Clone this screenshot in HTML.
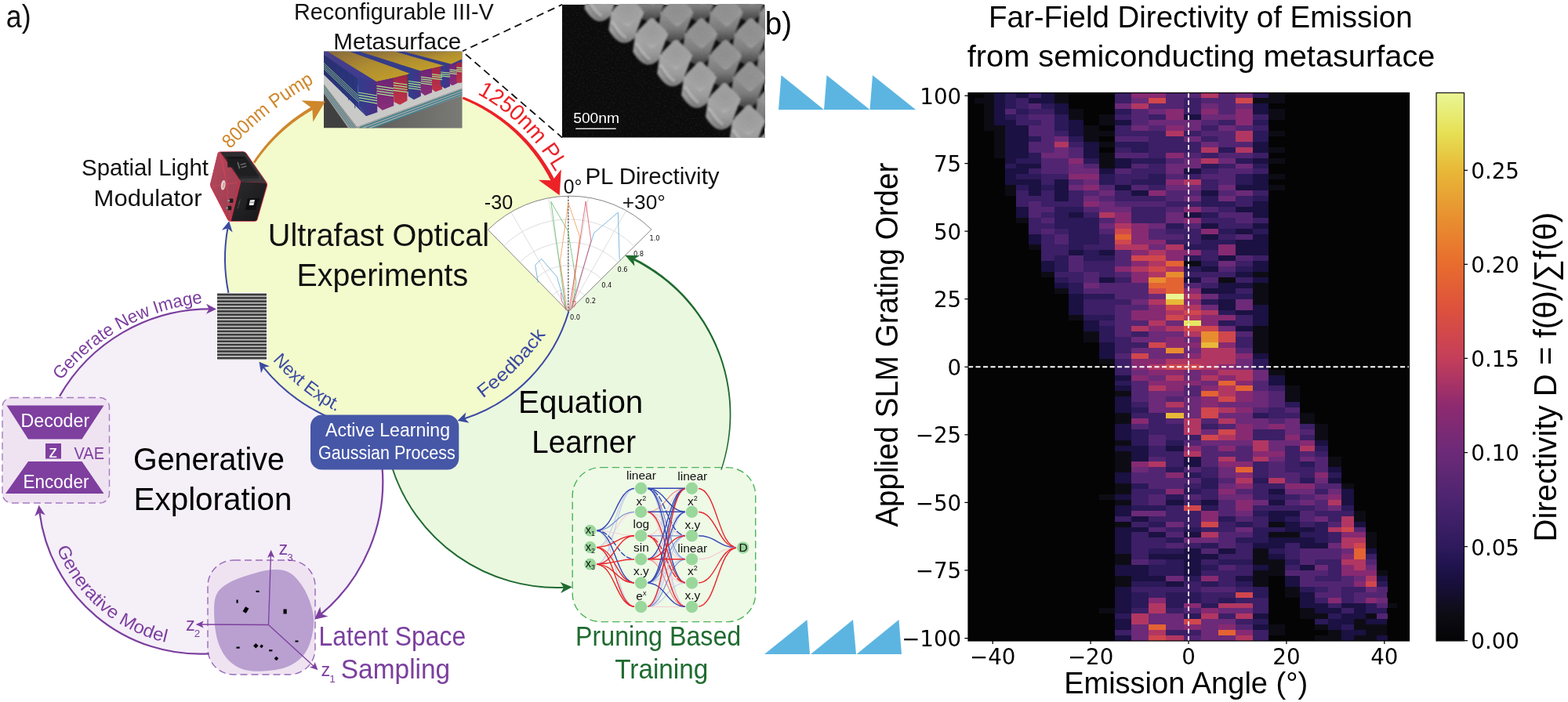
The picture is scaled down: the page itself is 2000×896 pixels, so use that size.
<!DOCTYPE html>
<html lang="en"><head><meta charset="utf-8"><title>Figure</title>
<style>
html,body{margin:0;padding:0;background:#fff;}
body{width:2000px;height:896px;overflow:hidden;font-family:"Liberation Sans",sans-serif;}
svg{display:block;}
text{font-family:"Liberation Sans",sans-serif;}
.dv{font-family:"DejaVu Sans","Liberation Sans",sans-serif;}
</style></head><body>
<svg width="2000" height="896" viewBox="0 0 2000 896">
<rect width="2000" height="896" fill="#fff"/>
<!-- blobs.svg -->
<g id="blobs">
<circle cx="267.7" cy="614.9" r="220.6" fill="#f5eff8"/>
<path d="M267.98 834.30 A206.30 206.30 0 0 1 49.23 640.02 Z" fill="#f5eff8"/>
<circle cx="710.5" cy="529.0" r="221.0" fill="#ebf8e0"/>
<circle cx="508.0" cy="330.0" r="221.0" fill="#f3fbcc"/>
</g>
<!-- art_meta.svg -->
<g id="metasurface">
<svg x="413" y="65.5" width="176.5" height="98" viewBox="97 78 1318 732" preserveAspectRatio="none">
<defs>
<linearGradient id="mYel" x1="0" y1="0" x2="1" y2="1"><stop offset="0" stop-color="#86683c"/><stop offset="0.5" stop-color="#b08e30"/><stop offset="1" stop-color="#c6a228"/></linearGradient>
<linearGradient id="mFloorR" x1="0" y1="0" x2="1" y2="0"><stop offset="0" stop-color="#5a5a58"/><stop offset="1" stop-color="#7a7a76"/></linearGradient>
<linearGradient id="mBlue" x1="0" y1="0" x2="1" y2="0"><stop offset="0" stop-color="#2f3f8c"/><stop offset="1" stop-color="#4a2f86"/></linearGradient>
<linearGradient id="mPur" x1="0" y1="0" x2="0" y2="1"><stop offset="0" stop-color="#6d2476"/><stop offset="1" stop-color="#8a2d78"/></linearGradient>
<linearGradient id="mRed" x1="0" y1="0" x2="0" y2="1"><stop offset="0" stop-color="#9c2448"/><stop offset="1" stop-color="#bf3348"/></linearGradient>
<linearGradient id="mTopStrip" x1="0" y1="0" x2="1" y2="1"><stop offset="0" stop-color="#4a3f86"/><stop offset="1" stop-color="#3c3a92"/></linearGradient>
<linearGradient id="mLeft" x1="0" y1="0" x2="1" y2="1"><stop offset="0" stop-color="#2a2f6e"/><stop offset="1" stop-color="#2c3a86"/></linearGradient>
</defs>
<rect x="97" y="78" width="1318" height="732" fill="#404040"/>
<polygon points="420,810 1415,470 1415,810" fill="url(#mFloorR)"/>
<polygon points="97,280 97,392 412,800 1415,430 1415,370 700,500" fill="#c9c9c7"/>
<polygon points="97,392 412,800 404,810 330,810 97,480" fill="#9a9a98"/>
<g stroke="#3d7f8e" stroke-width="7" fill="none"><path d="M97 410L398 810M97 436L378 810M97 462L358 810"/></g>
<polygon points="412,800 1415,430 1415,500 560,810 420,810" fill="#a9a9a6"/>
<g stroke="#3d7f8e" stroke-width="11" fill="none"><path d="M440 806L1415 446M500 808L1415 468M560 810L1415 490"/></g>
<!-- yellow tops & blue gaps -->
<polygon points="97,78 1415,78 1415,190 1300,205 1240,218 1020,265 925,292 600,368 415,333 97,130" fill="#353c88"/>
<polygon points="97,78 140,78 600,368 415,333 97,112" fill="url(#mTopStrip)"/>
<polygon points="130,78 335,78 925,292 600,368" fill="url(#mYel)"/>
<polygon points="430,78 770,78 1245,216 1020,264" fill="url(#mYel)"/>
<polygon points="850,78 1415,78 1415,150 1310,200" fill="url(#mYel)"/>
<!-- left receding pillar wall -->
<polygon points="97,110 415,333 432,600 500,697 97,300" fill="url(#mLeft)"/>
<g stroke="#27307a" stroke-width="6"><path d="M150 160L160 350M200 190L215 410M255 225L275 475M310 262L335 545M365 300L395 620"/></g>
<g stroke="#9ee08a" stroke-width="6" fill="none"><path d="M97 190L470 540M97 208L475 565M97 226L480 590M97 244L485 615"/></g>
<!-- front row -->
<polygon points="415,333 598,366 608,658 500,697 432,600" fill="url(#mBlue)"/>
<polygon points="598,366 758,333 764,598 655,640 606,600" fill="url(#mPur)"/>
<polygon points="758,333 892,300 892,548 822,588 764,560" fill="url(#mRed)"/>
<polygon points="900,292 1020,264 1022,505 955,540 902,505" fill="url(#mBlue)"/>
<polygon points="1020,264 1127,240 1128,470 1060,500 1022,470" fill="url(#mPur)"/>
<polygon points="1127,240 1225,218 1225,440 1160,465 1128,440" fill="url(#mRed)"/>
<polygon points="1210,222 1300,205 1300,410 1250,432 1210,405" fill="url(#mBlue)"/>
<polygon points="1295,205 1365,190 1365,385 1320,405 1295,385" fill="url(#mPur)"/>
<polygon points="1360,190 1415,178 1415,375 1385,380 1360,365" fill="url(#mRed)"/>
<g stroke="#a4e48e" stroke-width="9" fill="none">
<path d="M425 470L604 500M428 495L605 525M431 520L606 550M434 545L607 575"/>
<path d="M600 408L760 432M601 432L761 456M602 456L762 480M603 480L763 504"/>
<path d="M760 378L892 396M760 402L892 420M760 426L892 444M760 450L892 468"/>
<path d="M902 362L1021 378M902 384L1021 400M902 406L1021 422M902 428L1021 444"/>
<path d="M1022 322L1127 336M1022 342L1127 356M1022 362L1127 376M1022 382L1127 396"/>
<path d="M1128 296L1225 308M1128 316L1225 328M1128 336L1225 348"/>
<path d="M1212 276L1300 286M1212 294L1300 304M1212 312L1300 322"/>
<path d="M1296 252L1365 260M1296 270L1365 278M1296 288L1365 296"/>
<path d="M1362 232L1415 238M1362 250L1415 256M1362 268L1415 274"/>
</g>
</svg>
</g>

<!-- art_sem.svg -->
<g id="sem">
<svg x="717" y="5.7" width="258.5" height="170" viewBox="35 28 1280 842" preserveAspectRatio="none">
<defs>
<filter id="semBlur" x="-5%" y="-5%" width="110%" height="110%"><feGaussianBlur stdDeviation="5.5"/></filter>
<filter id="semNoise" x="0" y="0" width="100%" height="100%"><feTurbulence type="fractalNoise" baseFrequency="0.09" numOctaves="2" seed="7"/><feColorMatrix type="matrix" values="0 0 0 0 1  0 0 0 0 1  0 0 0 0 1  0.9 0 0 0 -0.38"/></filter>
<linearGradient id="semBody" x1="0" y1="0" x2="0" y2="1"><stop offset="0" stop-color="#a8a8a8"/><stop offset="0.6" stop-color="#9c9c9c"/><stop offset="1" stop-color="#7c7c7c"/></linearGradient>
<linearGradient id="semBodyIn" x1="0" y1="0" x2="0" y2="1"><stop offset="0" stop-color="#929292"/><stop offset="0.55" stop-color="#7a7a7a"/><stop offset="1" stop-color="#3c3c3c"/></linearGradient>
<radialGradient id="semTop" cx="0.45" cy="0.45" r="0.6"><stop offset="0" stop-color="#8e8e8e"/><stop offset="0.7" stop-color="#939393"/><stop offset="1" stop-color="#a4a4a4"/></radialGradient>
<radialGradient id="semTop1" cx="0.5" cy="0.4" r="0.65"><stop offset="0" stop-color="#9a9a9a"/><stop offset="0.7" stop-color="#a2a2a2"/><stop offset="1" stop-color="#b8b8b8"/></radialGradient>
</defs>
<rect x="35" y="28" width="1280" height="842" fill="#0b0b0b"/>
<g filter="url(#semBlur)">
<path d="M1291 -202 L1275 -84 Q1353 48 1437 -34 L1499 -202 Z" fill="url(#semBodyIn)"/>
<path d="M1374 -285 Q1395 -306 1416 -285 L1478 -223 Q1499 -202 1478 -181 L1416 -119 Q1395 -98 1374 -119 L1312 -181 Q1291 -202 1312 -223 Z" fill="url(#semTop)"/>
<path d="M978 -202 L962 -84 Q1040 48 1124 -34 L1186 -202 Z" fill="url(#semBodyIn)"/>
<path d="M1061 -285 Q1082 -306 1103 -285 L1165 -223 Q1186 -202 1165 -181 L1103 -119 Q1082 -98 1061 -119 L999 -181 Q978 -202 999 -223 Z" fill="url(#semTop)"/>
<path d="M1131 -65 L1115 53 Q1193 185 1277 103 L1339 -65 Z" fill="url(#semBodyIn)"/>
<path d="M1214 -148 Q1235 -169 1256 -148 L1318 -86 Q1339 -65 1318 -44 L1256 18 Q1235 39 1214 18 L1152 -44 Q1131 -65 1152 -86 Z" fill="url(#semTop)"/>
<path d="M1284 72 L1268 190 Q1346 322 1430 240 L1492 72 Z" fill="url(#semBodyIn)"/>
<path d="M1367 -11 Q1388 -32 1409 -11 L1471 51 Q1492 72 1471 93 L1409 155 Q1388 176 1367 155 L1305 93 Q1284 72 1305 51 Z" fill="url(#semTop)"/>
<path d="M665 -202 L649 -84 Q727 48 811 -34 L873 -202 Z" fill="url(#semBodyIn)"/>
<path d="M748 -285 Q769 -306 790 -285 L852 -223 Q873 -202 852 -181 L790 -119 Q769 -98 748 -119 L686 -181 Q665 -202 686 -223 Z" fill="url(#semTop)"/>
<path d="M818 -65 L802 53 Q880 185 964 103 L1026 -65 Z" fill="url(#semBodyIn)"/>
<path d="M901 -148 Q922 -169 943 -148 L1005 -86 Q1026 -65 1005 -44 L943 18 Q922 39 901 18 L839 -44 Q818 -65 839 -86 Z" fill="url(#semTop)"/>
<path d="M971 72 L955 190 Q1033 322 1117 240 L1179 72 Z" fill="url(#semBodyIn)"/>
<path d="M1054 -11 Q1075 -32 1096 -11 L1158 51 Q1179 72 1158 93 L1096 155 Q1075 176 1054 155 L992 93 Q971 72 992 51 Z" fill="url(#semTop)"/>
<path d="M1124 209 L1108 327 Q1186 459 1270 377 L1332 209 Z" fill="url(#semBodyIn)"/>
<path d="M1207 126 Q1228 105 1249 126 L1311 188 Q1332 209 1311 230 L1249 292 Q1228 313 1207 292 L1145 230 Q1124 209 1145 188 Z" fill="url(#semTop)"/>
<path d="M1277 346 L1261 464 Q1339 596 1423 514 L1485 346 Z" fill="url(#semBodyIn)"/>
<path d="M1360 263 Q1381 242 1402 263 L1464 325 Q1485 346 1464 367 L1402 429 Q1381 450 1360 429 L1298 367 Q1277 346 1298 325 Z" fill="url(#semTop)"/>
<path d="M352 -202 L336 -84 Q414 48 498 -34 L560 -202 Z" fill="url(#semBodyIn)"/>
<path d="M435 -285 Q456 -306 477 -285 L539 -223 Q560 -202 539 -181 L477 -119 Q456 -98 435 -119 L373 -181 Q352 -202 373 -223 Z" fill="url(#semTop)"/>
<path d="M505 -65 L489 53 Q567 185 651 103 L713 -65 Z" fill="url(#semBodyIn)"/>
<path d="M588 -148 Q609 -169 630 -148 L692 -86 Q713 -65 692 -44 L630 18 Q609 39 588 18 L526 -44 Q505 -65 526 -86 Z" fill="url(#semTop)"/>
<path d="M658 72 L642 190 Q720 322 804 240 L866 72 Z" fill="url(#semBodyIn)"/>
<path d="M741 -11 Q762 -32 783 -11 L845 51 Q866 72 845 93 L783 155 Q762 176 741 155 L679 93 Q658 72 679 51 Z" fill="url(#semTop)"/>
<path d="M811 209 L795 327 Q873 459 957 377 L1019 209 Z" fill="url(#semBodyIn)"/>
<path d="M894 126 Q915 105 936 126 L998 188 Q1019 209 998 230 L936 292 Q915 313 894 292 L832 230 Q811 209 832 188 Z" fill="url(#semTop)"/>
<path d="M964 346 L948 464 Q1026 596 1110 514 L1172 346 Z" fill="url(#semBodyIn)"/>
<path d="M1047 263 Q1068 242 1089 263 L1151 325 Q1172 346 1151 367 L1089 429 Q1068 450 1047 429 L985 367 Q964 346 985 325 Z" fill="url(#semTop)"/>
<path d="M1117 483 L1101 601 Q1179 733 1263 651 L1325 483 Z" fill="url(#semBodyIn)"/>
<path d="M1200 400 Q1221 379 1242 400 L1304 462 Q1325 483 1304 504 L1242 566 Q1221 587 1200 566 L1138 504 Q1117 483 1138 462 Z" fill="url(#semTop)"/>
<path d="M1270 620 L1254 738 Q1332 870 1416 788 L1478 620 Z" fill="url(#semBodyIn)"/>
<path d="M1353 537 Q1374 516 1395 537 L1457 599 Q1478 620 1457 641 L1395 703 Q1374 724 1353 703 L1291 641 Q1270 620 1291 599 Z" fill="url(#semTop)"/>
<path d="M192 -65 L176 53 Q254 185 338 103 L400 -65 Z" fill="url(#semBody)"/>
<path d="M196 -3 Q247 79 286 101" stroke="#d0d0d0" stroke-width="20" fill="none" opacity="0.42"/>
<path d="M194 19 Q242 101 282 123" stroke="#6a6a6a" stroke-width="12" fill="none" opacity="0.45"/>
<path d="M275 -148 Q296 -169 317 -148 L379 -86 Q400 -65 379 -44 L317 18 Q296 39 275 18 L213 -44 Q192 -65 213 -86 Z" fill="url(#semTop1)"/>
<path d="M345 72 L329 190 Q407 322 491 240 L553 72 Z" fill="url(#semBody)"/>
<path d="M349 134 Q400 216 439 238" stroke="#d0d0d0" stroke-width="20" fill="none" opacity="0.42"/>
<path d="M347 156 Q395 238 435 260" stroke="#6a6a6a" stroke-width="12" fill="none" opacity="0.45"/>
<path d="M428 -11 Q449 -32 470 -11 L532 51 Q553 72 532 93 L470 155 Q449 176 428 155 L366 93 Q345 72 366 51 Z" fill="url(#semTop1)"/>
<path d="M498 209 L482 327 Q560 459 644 377 L706 209 Z" fill="url(#semBody)"/>
<path d="M502 271 Q553 353 592 375" stroke="#d0d0d0" stroke-width="20" fill="none" opacity="0.42"/>
<path d="M500 293 Q548 375 588 397" stroke="#6a6a6a" stroke-width="12" fill="none" opacity="0.45"/>
<path d="M581 126 Q602 105 623 126 L685 188 Q706 209 685 230 L623 292 Q602 313 581 292 L519 230 Q498 209 519 188 Z" fill="url(#semTop1)"/>
<path d="M651 346 L635 464 Q713 596 797 514 L859 346 Z" fill="url(#semBody)"/>
<path d="M655 408 Q706 490 745 512" stroke="#d0d0d0" stroke-width="20" fill="none" opacity="0.42"/>
<path d="M653 430 Q701 512 741 534" stroke="#6a6a6a" stroke-width="12" fill="none" opacity="0.45"/>
<path d="M734 263 Q755 242 776 263 L838 325 Q859 346 838 367 L776 429 Q755 450 734 429 L672 367 Q651 346 672 325 Z" fill="url(#semTop1)"/>
<path d="M804 483 L788 601 Q866 733 950 651 L1012 483 Z" fill="url(#semBody)"/>
<path d="M808 545 Q859 627 898 649" stroke="#d0d0d0" stroke-width="20" fill="none" opacity="0.42"/>
<path d="M806 567 Q854 649 894 671" stroke="#6a6a6a" stroke-width="12" fill="none" opacity="0.45"/>
<path d="M887 400 Q908 379 929 400 L991 462 Q1012 483 991 504 L929 566 Q908 587 887 566 L825 504 Q804 483 825 462 Z" fill="url(#semTop1)"/>
<path d="M957 620 L941 738 Q1019 870 1103 788 L1165 620 Z" fill="url(#semBody)"/>
<path d="M961 682 Q1012 764 1051 786" stroke="#d0d0d0" stroke-width="20" fill="none" opacity="0.42"/>
<path d="M959 704 Q1007 786 1047 808" stroke="#6a6a6a" stroke-width="12" fill="none" opacity="0.45"/>
<path d="M1040 537 Q1061 516 1082 537 L1144 599 Q1165 620 1144 641 L1082 703 Q1061 724 1040 703 L978 641 Q957 620 978 599 Z" fill="url(#semTop1)"/>
<path d="M1110 757 L1094 875 Q1172 1007 1256 925 L1318 757 Z" fill="url(#semBody)"/>
<path d="M1114 819 Q1165 901 1204 923" stroke="#d0d0d0" stroke-width="20" fill="none" opacity="0.42"/>
<path d="M1112 841 Q1160 923 1200 945" stroke="#6a6a6a" stroke-width="12" fill="none" opacity="0.45"/>
<path d="M1193 674 Q1214 653 1235 674 L1297 736 Q1318 757 1297 778 L1235 840 Q1214 861 1193 840 L1131 778 Q1110 757 1131 736 Z" fill="url(#semTop1)"/>
<path d="M1263 894 L1247 1012 Q1325 1144 1409 1062 L1471 894 Z" fill="url(#semBody)"/>
<path d="M1267 956 Q1318 1038 1357 1060" stroke="#d0d0d0" stroke-width="20" fill="none" opacity="0.42"/>
<path d="M1265 978 Q1313 1060 1353 1082" stroke="#6a6a6a" stroke-width="12" fill="none" opacity="0.45"/>
<path d="M1346 811 Q1367 790 1388 811 L1450 873 Q1471 894 1450 915 L1388 977 Q1367 998 1346 977 L1284 915 Q1263 894 1284 873 Z" fill="url(#semTop1)"/>
</g>
<rect x="35" y="28" width="1280" height="842" filter="url(#semNoise)" opacity="0.15"/>
</svg>
<rect x="734.2" y="163.6" width="51.5" height="1.3" fill="#fff"/>
</g>
<!-- art_slm.svg -->
<g id="slm">
<svg x="250" y="180" width="110" height="120" viewBox="0 0 821 896" preserveAspectRatio="none">
<defs>
<linearGradient id="slmRed" x1="0" y1="0" x2="1" y2="1"><stop offset="0" stop-color="#b4485c"/><stop offset="1" stop-color="#9c3c50"/></linearGradient>
<linearGradient id="slmTop" x1="0" y1="0" x2="1" y2="1"><stop offset="0" stop-color="#2a2a2c"/><stop offset="1" stop-color="#3a3a3d"/></linearGradient>
<linearGradient id="slmFront" x1="0" y1="0" x2="1" y2="1"><stop offset="0" stop-color="#2c2c2f"/><stop offset="1" stop-color="#151517"/></linearGradient>
</defs>
<path d="M228 100 L450 98 Q470 100 482 118 L672 392 Q684 410 678 432 L586 748 Q580 768 560 768 L330 768 Q312 768 300 750 L140 440 Q130 420 138 398 L205 118 Q210 102 228 100Z" fill="#cc2f44"/>
<path d="M222 108 L416 382 L322 760 L141 428 Q134 414 139 398 L208 118 Q212 108 222 108Z" fill="url(#slmRed)"/>
<path d="M232 104 L448 102 Q464 103 474 118 L668 396 L428 386Z" fill="url(#slmTop)"/>
<path d="M428 388 L668 400 Q674 414 670 430 L580 746 Q576 760 560 762 L334 762Z" fill="url(#slmFront)"/>
<path d="M300 150 L470 150 L600 335 L400 335 L350 250 L300 250Z" fill="#1d1d1f" opacity="0.9"/>
<g stroke="#0c0c0c" stroke-width="5"><path d="M290 148v22M305 148v22M320 148v22M335 148v22M350 148v22M365 148v22M380 148v22M395 148v22M410 148v22M425 148v22M440 148v22M455 148v22"/><path d="M410 335v22M425 335v22M440 335v22M455 335v22M470 335v22M485 335v22M500 335v22M515 335v22M530 335v22M545 335v22M560 335v22M575 335v22M590 335v22"/></g>
<g fill="#8f8f92"><path d="M392 205l10-8 18 62-10 8zM420 222l52-14 4 10-52 14zM428 248l50-14 4 10-50 14z" opacity="0.7"/></g>
<g stroke="#e8475a" stroke-width="4" fill="none" opacity="0.9"><path d="M245 140 L300 470 Q304 490 296 510 L330 745"/><path d="M160 430 L390 395"/><path d="M225 115 L275 330"/></g>
<ellipse cx="259" cy="420" rx="21" ry="47" fill="#ddd6d2" transform="rotate(8 259 420)"/>
<ellipse cx="262" cy="422" rx="9" ry="30" fill="#e07a7a" opacity="0.6" transform="rotate(12 262 422)"/>
<rect x="318" y="548" width="36" height="40" rx="8" fill="#1c1c1e"/><rect x="300" y="560" width="22" height="16" fill="#8c8c8c"/>
<rect x="302" y="618" width="36" height="40" rx="8" fill="#1c1c1e"/><rect x="286" y="630" width="20" height="16" fill="#8c8c8c"/>
<path d="M492 548 L610 545 L575 655 L470 655Z" fill="#0d0d0f"/>
<path d="M515 562 L560 560 L548 612 L505 612Z" fill="#e8e8ea"/>
<path d="M515 585 L553 584" stroke="#555" stroke-width="5"/>
<path d="M398 640 L422 555" stroke="#a8a8a8" stroke-width="6" stroke-dasharray="5 4" opacity="0.8"/>
<path d="M572 648 L598 560" stroke="#8a8a8a" stroke-width="4" stroke-dasharray="3 4" opacity="0.6"/>
</svg>
</g>

<!-- art_polar.svg -->
<g id="polar">
<svg x="610" y="235" width="240" height="180" viewBox="0 0 1195 896" preserveAspectRatio="none">
<path d="M572 810 L62 290 A738 738 0 0 1 1100 288 Z" fill="#fff" stroke="#777" stroke-width="4.5" stroke-linejoin="round"/>
<g fill="none" stroke="#cfcfcf" stroke-width="3.5">
<path d="M572 810 L205 172M572 810 L444 80M572 810 L700 82M572 810 L938 170"/>
<path d="M470 706 A148 148 0 0 1 676 706"/>
<path d="M366 600 A296 296 0 0 1 780 600"/>
<path d="M264 496 A443 443 0 0 1 882 494"/>
<path d="M162 392 A590 590 0 0 1 986 390"/>
</g>
<path d="M572 810 L572 70" stroke="#222" stroke-width="5" stroke-dasharray="13 7" fill="none"/>
<g fill="none" stroke-width="3.6" stroke-linejoin="round">
<path d="M380 625 L362 515 L402 475 L500 590 L562 800" stroke="#4f9bd0"/>
<path d="M585 800 L735 310 L888 180 L897 475 L905 485" stroke="#4f9bd0"/>
<path d="M556 800 L462 112 L570 298 L622 620 L600 780" stroke="#4db457"/>
<path d="M562 800 L520 490 L572 118 L645 335 L590 800" stroke="#f08a3c"/>
<path d="M578 805 L683 110 L716 360 L596 790" stroke="#dc4055"/>
<path d="M560 800 L530 742 L525 690" stroke="#dc4055"/>
<path d="M598 745 L620 745 L610 782" stroke="#dc4055"/>
</g>
</svg>
<g class="dv" font-size="8.3" fill="#111" text-anchor="middle">
<text class="dv" x="733.5" y="407.6">0.0</text>
<text class="dv" x="753.4" y="387">0.2</text>
<text class="dv" x="773.8" y="367">0.4</text>
<text class="dv" x="794" y="346.8">0.6</text>
<text class="dv" x="814.5" y="326.5">0.8</text>
<text class="dv" x="835" y="306.5">1.0</text>
</g>
</g>

<!-- art_misc.svg -->
<g id="grating">
<defs><pattern id="grat" x="277" y="374" width="63" height="4.26" patternUnits="userSpaceOnUse"><rect width="63" height="4.26" fill="#f4f4f4"/><rect y="0.55" width="63" height="3.05" fill="#3c3c3c"/></pattern></defs>
<rect x="276" y="373" width="65" height="87.3" fill="#fbfbfb"/><rect x="277" y="374" width="63" height="85.3" fill="url(#grat)"/>
</g>

<g id="vae">
<rect x="3" y="507.5" width="136.5" height="134.5" rx="12" fill="#efe3f2" stroke="#a67cc0" stroke-width="1.4" stroke-dasharray="9 5"/>
<path d="M8.5 517.5 L132.5 517.5 L104.5 560.5 L36 560.5 Z" fill="#7e3f9f"/>
<path d="M36 589 L104.5 589 L132.5 630 L7 630 Z" fill="#7e3f9f"/>
<rect x="58" y="566" width="20" height="19.5" fill="#7e3f9f"/>
<text x="62.3" y="583.5" font-size="22" fill="#fff">z</text>
</g>
<g id="latent">
<rect x="265" y="715" width="137" height="146" rx="33" fill="#efe3f2" stroke="#9a6bb8" stroke-width="1.4" stroke-dasharray="9 5"/>
<path d="M273.5 791.8 C273.0 781.5 272.2 768.1 275.6 760.0 C279.0 751.9 285.3 747.8 293.6 743.0 C301.9 738.2 316.3 734.0 325.5 731.4 C334.7 728.8 342.1 727.5 348.8 727.1 C355.5 726.7 360.9 727.2 365.8 729.2 C370.8 731.2 374.3 734.0 378.5 738.8 C382.7 743.6 387.7 750.1 391.2 757.9 C394.7 765.7 398.6 776.3 399.7 785.5 C400.8 794.7 399.7 804.5 397.6 813.0 C395.5 821.5 392.3 830.0 387.0 836.4 C381.7 842.8 374.3 847.9 365.8 851.2 C357.3 854.6 345.3 856.0 336.1 856.5 C326.9 857.0 318.0 856.7 310.6 854.4 C303.2 852.1 296.8 848.2 291.5 842.7 C286.2 837.2 281.8 830.0 278.8 821.5 C275.8 813.0 274.0 802.0 273.5 791.8Z" fill="#b9a0d0"/>
<g stroke="#7e3f9f" stroke-width="1.3" fill="none">
<path d="M342.5 797.5 L345.5 706"/>
<path d="M342.5 797.5 L254 797"/>
<path d="M342.5 797.5 L402 852"/>
</g>
<g fill="#7e3f9f">
<path d="M345.7 701.8 L350.2 712 L345.6 709.6 L341 712Z"/>
<path d="M249.6 797 L259.8 792.5 L257.4 797 L259.8 801.5Z"/>
<path d="M405.4 855.2 L394.8 851.6 L399.8 850 L401.6 845Z"/>
</g>
<g fill="#000">
<rect x="326.5" y="753.8" width="4.2" height="2.2"/>
<rect x="301.5" y="765.5" width="2.2" height="4.2"/>
<rect x="311" y="775" width="5" height="7" transform="rotate(32 313.5 778.5)"/>
<rect x="361.5" y="777.5" width="4.2" height="6"/>
<rect x="376.5" y="817.5" width="4" height="2"/>
<rect x="301.5" y="825.5" width="4.2" height="2.2"/>
<rect x="324" y="822" width="4.6" height="4.6" transform="rotate(45 326.3 824.3)"/>
<rect x="332" y="823" width="3.2" height="3.6" transform="rotate(30 333.6 824.8)"/>
<rect x="343.2" y="829.2" width="4.2" height="2.2"/>
<rect x="350.5" y="838.5" width="4" height="4" transform="rotate(40 352.5 840.5)"/>
</g>
<g fill="#7e3f9f" font-size="23.5">
<text x="355.5" y="707.5">z<tspan font-size="13.5" dy="8" dx="-1">3</tspan></text>
<text x="237" y="804.5">z<tspan font-size="13.5" dy="8" dx="-1">2</tspan></text>
<text x="409.5" y="862.5">z<tspan font-size="13.5" dy="8" dx="-1">1</tspan></text>
</g>
</g>

<!-- art_nn.svg -->
<g id="nn">
<rect x="730.2" y="596.6" width="233.5" height="197" rx="36" fill="#eefae6" stroke="#4db35a" stroke-width="1.4" stroke-dasharray="9.5 5"/>
<g fill="none" stroke-linecap="round">
<path d="M759.7 698.5 C785.2 698.5 785.2 713.8 810.6 713.8" stroke="#f4eef4" stroke-width="1.2"/>
<path d="M759.7 720.1 C785.2 720.1 785.2 653.3 810.6 653.3" stroke="#f4eef4" stroke-width="1.2"/>
<path d="M759.7 677.2 C785.2 677.2 785.2 683.8 810.6 683.8" stroke="#f6cfd4" stroke-width="1.2"/>
<path d="M759.7 677.2 C785.2 677.2 785.2 774.5 810.6 774.5" stroke="#c5cbec" stroke-width="1.2"/>
<path d="M759.7 698.5 C785.2 698.5 785.2 623.3 810.6 623.3" stroke="#c5cbec" stroke-width="1.2"/>
<path d="M759.7 698.5 C785.2 698.5 785.2 653.3 810.6 653.3" stroke="#f6cfd4" stroke-width="1.2"/>
<path d="M759.7 720.1 C785.2 720.1 785.2 623.3 810.6 623.3" stroke="#c5cbec" stroke-width="1.2"/>
<path d="M759.7 677.2 C785.2 677.2 785.2 653.3 810.6 653.3" stroke="#7f8fd6" stroke-width="1.2"/>
<path d="M759.7 677.2 C785.2 677.2 785.2 623.3 810.6 623.3" stroke="#3346b4" stroke-width="1.4"/>
<path d="M759.7 677.2 C785.2 677.2 785.2 713.8 810.6 713.8" stroke="#3346b4" stroke-width="1.4" stroke-dasharray="6 3"/>
<path d="M759.7 677.2 C785.2 677.2 785.2 744.0 810.6 744.0" stroke="#3346b4" stroke-width="1.4"/>
<path d="M759.7 698.5 C785.2 698.5 785.2 683.8 810.6 683.8" stroke="#e8262c" stroke-width="1.4"/>
<path d="M759.7 698.5 C785.2 698.5 785.2 744.0 810.6 744.0" stroke="#e8262c" stroke-width="1.4"/>
<path d="M759.7 698.5 C785.2 698.5 785.2 774.5 810.6 774.5" stroke="#e8262c" stroke-width="1.4"/>
<path d="M759.7 720.1 C785.2 720.1 785.2 683.8 810.6 683.8" stroke="#e8262c" stroke-width="1.4"/>
<path d="M759.7 720.1 C785.2 720.1 785.2 713.8 810.6 713.8" stroke="#e8262c" stroke-width="1.4"/>
<path d="M759.7 720.1 C785.2 720.1 785.2 744.0 810.6 744.0" stroke="#e8262c" stroke-width="1.4"/>
<path d="M759.7 720.1 C785.2 720.1 785.2 774.5 810.6 774.5" stroke="#e8262c" stroke-width="1.4"/>
<path d="M824.6 683.8 C850.0 683.8 850.0 653.3 875.5 653.3" stroke="#f4eef4" stroke-width="1.2"/>
<path d="M824.6 744.0 C850.0 744.0 850.0 744.0 875.5 744.0" stroke="#f4eef4" stroke-width="1.2"/>
<path d="M824.6 623.3 C850.0 623.3 850.0 774.5 875.5 774.5" stroke="#c5cbec" stroke-width="1.2"/>
<path d="M824.6 653.3 C850.0 653.3 850.0 683.8 875.5 683.8" stroke="#f6cfd4" stroke-width="1.2"/>
<path d="M824.6 653.3 C850.0 653.3 850.0 713.8 875.5 713.8" stroke="#c5cbec" stroke-width="1.2"/>
<path d="M824.6 653.3 C850.0 653.3 850.0 774.5 875.5 774.5" stroke="#f6cfd4" stroke-width="1.2"/>
<path d="M824.6 683.8 C850.0 683.8 850.0 623.3 875.5 623.3" stroke="#f6cfd4" stroke-width="1.2"/>
<path d="M824.6 683.8 C850.0 683.8 850.0 713.8 875.5 713.8" stroke="#f6cfd4" stroke-width="1.2"/>
<path d="M824.6 713.8 C850.0 713.8 850.0 653.3 875.5 653.3" stroke="#c5cbec" stroke-width="1.2"/>
<path d="M824.6 713.8 C850.0 713.8 850.0 744.0 875.5 744.0" stroke="#f6cfd4" stroke-width="1.2"/>
<path d="M824.6 744.0 C850.0 744.0 850.0 713.8 875.5 713.8" stroke="#c5cbec" stroke-width="1.2"/>
<path d="M824.6 774.5 C850.0 774.5 850.0 653.3 875.5 653.3" stroke="#c5cbec" stroke-width="1.2"/>
<path d="M824.6 774.5 C850.0 774.5 850.0 683.8 875.5 683.8" stroke="#c5cbec" stroke-width="1.2"/>
<path d="M824.6 774.5 C850.0 774.5 850.0 744.0 875.5 744.0" stroke="#c5cbec" stroke-width="1.2"/>
<path d="M824.6 774.5 C850.0 774.5 850.0 774.5 875.5 774.5" stroke="#f6cfd4" stroke-width="1.2"/>
<path d="M824.6 623.3 C850.0 623.3 850.0 713.8 875.5 713.8" stroke="#7f8fd6" stroke-width="1.2"/>
<path d="M824.6 653.3 C850.0 653.3 850.0 623.3 875.5 623.3" stroke="#f08a90" stroke-width="1.2"/>
<path d="M824.6 683.8 C850.0 683.8 850.0 683.8 875.5 683.8" stroke="#7f8fd6" stroke-width="1.2"/>
<path d="M824.6 713.8 C850.0 713.8 850.0 774.5 875.5 774.5" stroke="#f08a90" stroke-width="1.2"/>
<path d="M824.6 744.0 C850.0 744.0 850.0 683.8 875.5 683.8" stroke="#7f8fd6" stroke-width="1.2"/>
<path d="M824.6 774.5 C850.0 774.5 850.0 713.8 875.5 713.8" stroke="#7f8fd6" stroke-width="1.2"/>
<path d="M824.6 623.3 C850.0 623.3 850.0 623.3 875.5 623.3" stroke="#3346b4" stroke-width="1.4"/>
<path d="M824.6 623.3 C850.0 623.3 850.0 653.3 875.5 653.3" stroke="#3346b4" stroke-width="1.4"/>
<path d="M824.6 623.3 C850.0 623.3 850.0 683.8 875.5 683.8" stroke="#3346b4" stroke-width="1.4" stroke-dasharray="7 3"/>
<path d="M824.6 623.3 C850.0 623.3 850.0 744.0 875.5 744.0" stroke="#3346b4" stroke-width="1.4"/>
<path d="M824.6 653.3 C850.0 653.3 850.0 653.3 875.5 653.3" stroke="#3346b4" stroke-width="1.4"/>
<path d="M824.6 653.3 C850.0 653.3 850.0 744.0 875.5 744.0" stroke="#e8262c" stroke-width="1.4"/>
<path d="M824.6 683.8 C850.0 683.8 850.0 744.0 875.5 744.0" stroke="#e8262c" stroke-width="1.4" stroke-dasharray="7 3"/>
<path d="M824.6 683.8 C850.0 683.8 850.0 774.5 875.5 774.5" stroke="#e8262c" stroke-width="1.4"/>
<path d="M824.6 713.8 C850.0 713.8 850.0 623.3 875.5 623.3" stroke="#3346b4" stroke-width="1.4"/>
<path d="M824.6 713.8 C850.0 713.8 850.0 683.8 875.5 683.8" stroke="#e8262c" stroke-width="1.4"/>
<path d="M824.6 713.8 C850.0 713.8 850.0 713.8 875.5 713.8" stroke="#e8262c" stroke-width="1.4"/>
<path d="M824.6 744.0 C850.0 744.0 850.0 623.3 875.5 623.3" stroke="#3346b4" stroke-width="1.4"/>
<path d="M824.6 744.0 C850.0 744.0 850.0 653.3 875.5 653.3" stroke="#3346b4" stroke-width="1.4"/>
<path d="M824.6 744.0 C850.0 744.0 850.0 774.5 875.5 774.5" stroke="#3346b4" stroke-width="1.4"/>
<path d="M824.6 774.5 C850.0 774.5 850.0 623.3 875.5 623.3" stroke="#e8262c" stroke-width="1.4"/>
<path d="M889.5 623.3 C915.1 623.3 915.1 699.0 940.7 699.0" stroke="#e8262c" stroke-width="1.4"/>
<path d="M889.5 653.3 C915.1 653.3 915.1 699.0 940.7 699.0" stroke="#e8262c" stroke-width="1.4"/>
<path d="M889.5 683.8 C915.1 683.8 915.1 699.0 940.7 699.0" stroke="#3346b4" stroke-width="1.4"/>
<path d="M889.5 713.8 C915.1 713.8 915.1 699.0 940.7 699.0" stroke="#f6cfd4" stroke-width="1.4"/>
<path d="M889.5 744.0 C915.1 744.0 915.1 699.0 940.7 699.0" stroke="#e8262c" stroke-width="1.4"/>
<path d="M889.5 774.5 C915.1 774.5 915.1 699.0 940.7 699.0" stroke="#e8262c" stroke-width="1.4"/>
</g>
<g fill="#9ad79b" stroke="#f4fbf0" stroke-width="1">
<circle cx="752.7" cy="677.2" r="8"/>
<circle cx="752.7" cy="698.5" r="8"/>
<circle cx="752.7" cy="720.1" r="8"/>
<circle cx="817.6" cy="623.3" r="8.2"/>
<circle cx="882.5" cy="623.3" r="8.2"/>
<circle cx="817.6" cy="653.3" r="8.2"/>
<circle cx="882.5" cy="653.3" r="8.2"/>
<circle cx="817.6" cy="683.8" r="8.2"/>
<circle cx="882.5" cy="683.8" r="8.2"/>
<circle cx="817.6" cy="713.8" r="8.2"/>
<circle cx="882.5" cy="713.8" r="8.2"/>
<circle cx="817.6" cy="744.0" r="8.2"/>
<circle cx="882.5" cy="744.0" r="8.2"/>
<circle cx="817.6" cy="774.5" r="8.2"/>
<circle cx="882.5" cy="774.5" r="8.2"/>
<circle cx="947.7" cy="699.0" r="8.2"/>
</g>
<g font-size="15.5" fill="#111" text-anchor="middle">
<text x="817.9" y="611.6">linear</text>
<text x="817.9" y="645.1">x<tspan font-size="9" dy="-6">2</tspan></text>
<text x="817.9" y="674.4">log</text>
<text x="817.9" y="703.7">sin</text>
<text x="817.9" y="733.5">x.y</text>
<text x="817.9" y="766.3">e<tspan font-size="9" dy="-6">x</tspan></text>
<text x="883.3" y="612.7">linear</text>
<text x="883.3" y="645.3">x<tspan font-size="9" dy="-6">2</tspan></text>
<text x="883.3" y="674.9">x.y</text>
<text x="883.3" y="704.9">linear</text>
<text x="883.3" y="733.5">x<tspan font-size="9" dy="-6">2</tspan></text>
<text x="883.3" y="764.7">x.y</text>
<text x="753.0" y="681.2" font-size="14.5">x<tspan font-size="9" dy="3">1</tspan></text>
<text x="753.0" y="702.5" font-size="14.5">x<tspan font-size="9" dy="3">2</tspan></text>
<text x="753.0" y="724.1" font-size="14.5">x<tspan font-size="9" dy="3">3</tspan></text>
<text x="948.1" y="704.3" font-size="15.5">D</text>
</g>
</g>
<!-- arrows.svg -->
<g id="arrows">
<path d="M76.07 505.61 A220.60 220.60 0 0 1 266.91 394.30" fill="none" stroke="#7b3f9e" stroke-width="2.2"/><path d="M0 0 L-13.00 6.50 L-9.36 0 L-13.00 -6.50 Z" fill="#7b3f9e" transform="translate(276.01 394.46) rotate(-359.53)"/>
<path d="M487.49 596.00 A220.60 220.60 0 0 1 409.71 783.71" fill="none" stroke="#7b3f9e" stroke-width="2.2"/><path d="M0 0 L-16.00 8.00 L-11.52 0 L-16.00 -8.00 Z" fill="#7b3f9e" transform="translate(400.96 790.70) rotate(140.76)"/>
<path d="M266.49 834.39 A206.30 206.30 0 0 1 50.51 654.13" fill="none" stroke="#7b3f9e" stroke-width="2.2"/><path d="M0 0 L-13.50 6.75 L-9.72 0 L-13.50 -6.75 Z" fill="#7b3f9e" transform="translate(49.55 644.73) rotate(263.59)"/>
<path d="M500.05 596.47 A221.00 221.00 0 0 0 719.40 749.82" fill="none" stroke="#1f6b30" stroke-width="1.9"/><path d="M0 0 L-15.00 7.00 L-10.80 0 L-15.00 -7.00 Z" fill="#1f6b30" transform="translate(729.88 749.15) rotate(-3.09)"/>
<path d="M920.57 599.86L922.22 594.80L923.75 589.71L925.16 584.58L926.44 579.42L927.60 574.23L928.64 569.01L929.54 563.77L930.33 558.51L930.98 553.24L931.51 547.94L931.92 542.64L932.19 537.33L932.34 532.01L932.36 526.69L932.26 521.37L932.02 516.05L931.66 510.74L931.17 505.44L930.56 500.16L929.81 494.89L928.94 489.64L927.95 484.41L926.83 479.20L925.59 474.03L924.22 468.88L922.73 463.77L921.11 458.70L919.38 453.66L917.52 448.67L915.55 443.72L913.46 438.83L911.25 433.98L908.92 429.19L906.48 424.45L903.93 419.78L901.27 415.16L898.49 410.62L895.61 406.14L892.62 401.73L889.53 397.39L886.33 393.12L883.03 388.94L879.63 384.83L876.14 380.81L872.54 376.87L868.86 373.02L865.08 369.26L861.22 365.59L857.26 362.02L853.22 358.54L849.10 355.15L844.90 351.87L840.62 348.69L836.27 345.61L831.84 342.63L827.35 339.77L822.78 337.01L818.15 334.36L813.46 331.83L808.71 329.40L807.43 332.00L812.13 334.37L816.77 336.86L821.35 339.45L825.87 342.15L830.33 344.96L834.71 347.88L839.03 350.90L843.27 354.02L847.44 357.24L851.52 360.57L855.53 363.99L859.45 367.50L863.29 371.11L867.04 374.81L870.70 378.60L874.27 382.48L877.75 386.44L881.13 390.48L884.41 394.61L887.59 398.81L890.68 403.09L893.65 407.44L896.53 411.86L899.29 416.34L901.95 420.90L904.50 425.51L906.94 430.19L909.26 434.92L911.47 439.71L913.56 444.55L915.54 449.44L917.40 454.37L919.14 459.35L920.77 464.37L922.27 469.43L923.65 474.52L924.91 479.64L926.04 484.80L927.05 489.98L927.94 495.18L928.70 500.40L929.33 505.64L929.84 510.89L930.22 516.16L930.48 521.43L930.61 526.71L930.62 531.98L930.49 537.26L930.25 542.54L929.87 547.80L929.37 553.06L928.74 558.30L927.99 563.53L927.11 568.74L926.11 573.92L924.98 579.08L923.73 584.21L922.36 589.31L920.86 594.38L919.25 599.41Z" fill="#1f6b30"/><path d="M0 0 L-17.00 7.50 L-12.24 0 L-17.00 -7.50 Z" fill="#1f6b30" transform="translate(797.25 325.74) rotate(-154.68)"/>
<path d="M291.41 373.92 A221.00 221.00 0 0 1 290.42 291.30" fill="none" stroke="#3a4aa2" stroke-width="2.0"/><path d="M0 0 L-13.00 7.00 L-9.36 0 L-13.00 -7.00 Z" fill="#3a4aa2" transform="translate(292.19 282.37) rotate(280.76)"/>
<path d="M322.76 206.84L323.71 205.40L324.68 203.96L325.65 202.53L326.64 201.12L327.64 199.70L328.65 198.30L329.67 196.90L330.71 195.51L331.75 194.13L332.80 192.76L333.87 191.40L334.94 190.04L336.03 188.70L337.12 187.36L338.23 186.03L339.35 184.70L340.47 183.39L341.61 182.09L342.76 180.79L343.92 179.50L345.08 178.23L346.26 176.96L347.45 175.70L348.65 174.45L349.85 173.21L351.07 171.97L352.29 170.75L353.53 169.54L354.78 168.34L356.03 167.14L357.29 165.96L358.57 164.78L359.85 163.62L361.14 162.47L362.44 161.32L363.75 160.19L365.07 159.06L366.40 157.95L367.73 156.85L369.07 155.75L370.43 154.67L371.79 153.60L373.16 152.54L374.54 151.49L375.92 150.45L377.31 149.42L378.72 148.40L380.13 147.39L381.54 146.39L382.97 145.41L384.40 144.43L385.84 143.47L387.29 142.52L388.75 141.58L390.21 140.65L391.68 139.73L393.16 138.82L394.64 137.93L396.14 137.04L397.63 136.17L399.66 139.73L398.18 140.57L396.71 141.42L395.24 142.28L393.78 143.16L392.32 144.04L390.88 144.94L389.44 145.85L388.00 146.77L386.58 147.70L385.16 148.64L383.75 149.59L382.34 150.55L380.94 151.53L379.55 152.51L378.17 153.51L376.80 154.51L375.43 155.53L374.07 156.56L372.72 157.60L371.38 158.65L370.05 159.71L368.72 160.78L367.40 161.86L366.09 162.95L364.79 164.05L363.50 165.16L362.22 166.28L360.94 167.41L359.68 168.55L358.42 169.70L357.17 170.86L355.93 172.03L354.70 173.21L353.48 174.40L352.27 175.60L351.06 176.81L349.87 178.03L348.69 179.25L347.51 180.49L346.35 181.73L345.19 182.99L344.05 184.25L342.91 185.52L341.79 186.81L340.67 188.10L339.56 189.39L338.47 190.70L337.38 192.02L336.31 193.34L335.24 194.67L334.19 196.01L333.14 197.36L332.11 198.72L331.09 200.09L330.07 201.46L329.07 202.84L328.08 204.23L327.10 205.63L326.13 207.03L325.17 208.44Z" fill="#cf872c"/><path d="M0 0 L-26.00 15.50 L-18.72 0 L-26.00 -15.50 Z" fill="#cf872c" transform="translate(414.82 129.61) rotate(-28.31)"/>
<path d="M590.92 123.47L593.40 124.47L595.88 125.50L598.35 126.56L600.80 127.65L603.23 128.77L605.66 129.92L608.07 131.09L610.47 132.30L612.85 133.53L615.22 134.80L617.57 136.09L619.91 137.41L622.23 138.76L624.53 140.14L626.82 141.54L629.09 142.97L631.34 144.43L633.58 145.92L635.80 147.43L638.00 148.97L640.18 150.54L642.34 152.13L644.48 153.75L646.61 155.40L648.71 157.07L650.79 158.76L652.86 160.48L654.90 162.23L656.92 164.00L658.92 165.80L660.90 167.61L662.86 169.46L664.79 171.32L666.70 173.21L668.59 175.13L670.46 177.06L672.30 179.02L674.12 181.00L675.91 183.00L677.68 185.02L679.43 187.07L681.15 189.14L682.85 191.22L684.52 193.33L686.17 195.46L687.79 197.60L689.39 199.77L690.95 201.96L692.50 204.16L694.01 206.39L695.50 208.63L696.96 210.89L698.40 213.16L699.81 215.46L701.19 217.77L702.54 220.10L703.86 222.44L705.16 224.80L706.43 227.18L707.66 229.57L703.20 231.82L702.02 229.46L700.80 227.13L699.56 224.80L698.30 222.50L697.00 220.20L695.68 217.92L694.33 215.66L692.95 213.42L691.54 211.19L690.11 208.98L688.65 206.78L687.17 204.61L685.66 202.45L684.12 200.31L682.56 198.18L680.97 196.08L679.36 194.00L677.72 191.93L676.05 189.89L674.36 187.86L672.65 185.86L670.92 183.87L669.15 181.91L667.37 179.97L665.56 178.05L663.73 176.15L661.88 174.27L660.00 172.42L658.10 170.59L656.18 168.78L654.24 166.99L652.27 165.23L650.29 163.49L648.28 161.78L646.25 160.09L644.21 158.42L642.14 156.78L640.05 155.16L637.94 153.57L635.82 152.01L633.67 150.47L631.51 148.95L629.33 147.46L627.13 146.00L624.91 144.57L622.68 143.16L620.43 141.78L618.16 140.42L615.87 139.09L613.57 137.79L611.26 136.52L608.92 135.28L606.58 134.06L604.22 132.87L601.84 131.71L599.45 130.58L597.05 129.48L594.63 128.41L592.20 127.36L589.76 126.35Z" fill="#ec2227"/><path d="M0 0 L-29.00 16.00 L-20.88 0 L-29.00 -16.00 Z" fill="#ec2227" transform="translate(713.71 249.22) rotate(64.80)"/>
<path d="M725.30 397.80 A204.00 204.00 0 0 1 583.50 537.00 Z" fill="#f3fbcc"/>
<path d="M725.30 397.80 A204.00 204.00 0 0 1 592.55 534.29" fill="none" stroke="#3a4aa2" stroke-width="2.0"/><path d="M0 0 L-13.50 7.00 L-9.72 0 L-13.50 -7.00 Z" fill="#3a4aa2" transform="translate(583.50 537.00) rotate(162.78)"/>
<path d="M416.77 531.29 A221.00 221.00 0 0 1 336.05 468.84" fill="none" stroke="#3a4aa2" stroke-width="2.0"/><path d="M0 0 L-13.00 7.00 L-9.36 0 L-13.00 -7.00 Z" fill="#3a4aa2" transform="translate(330.48 461.64) rotate(231.76)"/>
</g>
<!-- art_box.svg -->
<g id="active-box">
<rect x="396" y="529.5" width="189.3" height="70" rx="14.5" fill="#4657a7"/>
</g>
<!-- left_text.svg -->
<g id="curved-text">
<defs>
<path id="tp-pump" d="M293.5 190.5 Q343 137.5 410 100.5"/>
<path id="tp-pl" d="M608.5 120 Q670 152 710.5 223"/>
<path id="tp-gen" d="M77.5 486 Q149 397 269 385.5"/>
<path id="tp-next" d="M347.5 459.5 Q387 505 435 528"/>
<path id="tp-feed" d="M616 508.5 Q667 470 703 417"/>
<path id="tp-model" d="M72.4 700.0 A196.3 196.3 0 0 0 212.4 820.0"/>
</defs>
<text font-size="25" fill="#cf872c"><textPath href="#tp-pump" textLength="137.5" lengthAdjust="spacingAndGlyphs">800nm Pump</textPath></text>
<text font-size="28.5" fill="#ec2227"><textPath href="#tp-pl" textLength="143" lengthAdjust="spacingAndGlyphs">1250nm PL</textPath></text>
<text font-size="23" fill="#7b3f9e"><textPath href="#tp-gen" textLength="212" lengthAdjust="spacingAndGlyphs">Generate New Image</textPath></text>
<text font-size="23" fill="#3a4aa2"><textPath href="#tp-next" textLength="106" lengthAdjust="spacingAndGlyphs">Next Expt.</textPath></text>
<text font-size="23" fill="#3a4aa2"><textPath href="#tp-feed" textLength="115" lengthAdjust="spacingAndGlyphs">Feedback</textPath></text>
<text font-size="23" fill="#7b3f9e"><textPath href="#tp-model" textLength="191" lengthAdjust="spacingAndGlyphs">Generative Model</textPath></text>
</g>
<g id="zoom-lines" stroke="#111" stroke-width="1.8" stroke-dasharray="9.5 6" fill="none"><path d="M590 65.3 L717 5.8" stroke-dashoffset="4"/><path d="M590 65.8 L717 175.6" stroke-dashoffset="10.5"/></g>

<!-- right.svg -->
<g id="panel-b">
<!-- sawtooth icons -->
<g fill="#5cb5e1">
<path d="M996.5 96 L1051 140 L993 140 Z"/>
<path d="M1054.5 96 L1109.5 140 L1051 140 Z"/>
<path d="M1113 96 L1168 140 L1109.5 140 Z"/>
<path d="M1029.5 791 L1033 835 L975 835 Z"/>
<path d="M1088 791 L1092 835 L1034 835 Z"/>
<path d="M1146.5 791 L1150 835 L1092.5 835 Z"/>
</g>
<g shape-rendering="crispEdges">
<rect x="1235.0" y="118.5" width="562.5" height="699.5" fill="#040405"/>
<rect x="1255.2" y="118.50" width="12.8" height="6.93" fill="#0d0c15"/>
<rect x="1268.0" y="118.50" width="13.6" height="6.93" fill="#1b1142"/>
<rect x="1281.6" y="118.50" width="14.5" height="6.93" fill="#2b1959"/>
<rect x="1296.1" y="118.50" width="15.4" height="6.93" fill="#1b1142"/>
<rect x="1311.5" y="118.50" width="16.3" height="6.93" fill="#3c1f66"/>
<rect x="1327.8" y="118.50" width="17.2" height="6.93" fill="#1b1142"/>
<rect x="1344.9" y="118.50" width="18.1" height="6.93" fill="#0d0c15"/>
<rect x="1422.3" y="118.50" width="21.2" height="6.93" fill="#3c1f66"/>
<rect x="1443.4" y="118.50" width="43.8" height="6.93" fill="#872a72"/>
<rect x="1487.2" y="118.50" width="44.6" height="6.93" fill="#522572"/>
<rect x="1531.8" y="118.50" width="22.2" height="6.93" fill="#b13762"/>
<rect x="1554.1" y="118.50" width="21.9" height="6.93" fill="#522572"/>
<rect x="1576.0" y="118.50" width="21.5" height="6.93" fill="#6c2a78"/>
<rect x="1597.5" y="118.50" width="20.9" height="6.93" fill="#2b1959"/>
<rect x="1618.4" y="118.50" width="20.2" height="6.93" fill="#0d0c15"/>
<rect x="1243.1" y="125.43" width="24.9" height="6.93" fill="#0d0c15"/>
<rect x="1268.0" y="125.43" width="13.6" height="6.93" fill="#1b1142"/>
<rect x="1281.6" y="125.43" width="14.5" height="6.93" fill="#2b1959"/>
<rect x="1296.1" y="125.43" width="15.4" height="6.93" fill="#3c1f66"/>
<rect x="1311.5" y="125.43" width="33.4" height="6.93" fill="#1b1142"/>
<rect x="1344.9" y="125.43" width="18.1" height="6.93" fill="#0d0c15"/>
<rect x="1422.3" y="125.43" width="21.2" height="6.93" fill="#3c1f66"/>
<rect x="1443.4" y="125.43" width="21.7" height="6.93" fill="#6c2a78"/>
<rect x="1465.1" y="125.43" width="22.1" height="6.93" fill="#d0474d"/>
<rect x="1487.2" y="125.43" width="22.3" height="6.93" fill="#522572"/>
<rect x="1509.5" y="125.43" width="22.4" height="6.93" fill="#3c1f66"/>
<rect x="1531.8" y="125.43" width="44.2" height="6.93" fill="#522572"/>
<rect x="1576.0" y="125.43" width="21.5" height="6.93" fill="#d0474d"/>
<rect x="1597.5" y="125.43" width="41.1" height="6.93" fill="#0d0c15"/>
<rect x="1255.2" y="132.35" width="12.8" height="6.93" fill="#0d0c15"/>
<rect x="1268.0" y="132.35" width="13.6" height="6.93" fill="#1b1142"/>
<rect x="1281.6" y="132.35" width="14.5" height="6.93" fill="#2b1959"/>
<rect x="1296.1" y="132.35" width="15.4" height="6.93" fill="#3c1f66"/>
<rect x="1311.5" y="132.35" width="16.3" height="6.93" fill="#522572"/>
<rect x="1327.8" y="132.35" width="17.2" height="6.93" fill="#2b1959"/>
<rect x="1344.9" y="132.35" width="18.1" height="6.93" fill="#1b1142"/>
<rect x="1422.3" y="132.35" width="21.2" height="6.93" fill="#6c2a78"/>
<rect x="1443.4" y="132.35" width="21.7" height="6.93" fill="#b13762"/>
<rect x="1465.1" y="132.35" width="44.4" height="6.93" fill="#522572"/>
<rect x="1509.5" y="132.35" width="22.4" height="6.93" fill="#3c1f66"/>
<rect x="1531.8" y="132.35" width="22.2" height="6.93" fill="#6c2a78"/>
<rect x="1554.1" y="132.35" width="21.9" height="6.93" fill="#522572"/>
<rect x="1576.0" y="132.35" width="21.5" height="6.93" fill="#6c2a78"/>
<rect x="1597.5" y="132.35" width="20.9" height="6.93" fill="#1b1142"/>
<rect x="1255.2" y="139.28" width="12.8" height="6.93" fill="#0d0c15"/>
<rect x="1268.0" y="139.28" width="13.6" height="6.93" fill="#1b1142"/>
<rect x="1281.6" y="139.28" width="14.5" height="6.93" fill="#522572"/>
<rect x="1296.1" y="139.28" width="15.4" height="6.93" fill="#2b1959"/>
<rect x="1311.5" y="139.28" width="33.4" height="6.93" fill="#3c1f66"/>
<rect x="1344.9" y="139.28" width="18.1" height="6.93" fill="#1b1142"/>
<rect x="1363.0" y="139.28" width="18.9" height="6.93" fill="#0d0c15"/>
<rect x="1422.3" y="139.28" width="21.2" height="6.93" fill="#2b1959"/>
<rect x="1443.4" y="139.28" width="21.7" height="6.93" fill="#522572"/>
<rect x="1465.1" y="139.28" width="22.1" height="6.93" fill="#6c2a78"/>
<rect x="1487.2" y="139.28" width="22.3" height="6.93" fill="#872a72"/>
<rect x="1509.5" y="139.28" width="22.4" height="6.93" fill="#3c1f66"/>
<rect x="1531.8" y="139.28" width="22.2" height="6.93" fill="#872a72"/>
<rect x="1554.1" y="139.28" width="21.9" height="6.93" fill="#522572"/>
<rect x="1576.0" y="139.28" width="21.5" height="6.93" fill="#872a72"/>
<rect x="1597.5" y="139.28" width="20.9" height="6.93" fill="#1b1142"/>
<rect x="1618.4" y="139.28" width="20.2" height="6.93" fill="#0d0c15"/>
<rect x="1255.2" y="146.20" width="12.8" height="6.93" fill="#0d0c15"/>
<rect x="1268.0" y="146.20" width="13.6" height="6.93" fill="#1b1142"/>
<rect x="1281.6" y="146.20" width="14.5" height="6.93" fill="#2b1959"/>
<rect x="1296.1" y="146.20" width="15.4" height="6.93" fill="#3c1f66"/>
<rect x="1311.5" y="146.20" width="33.4" height="6.93" fill="#522572"/>
<rect x="1344.9" y="146.20" width="18.1" height="6.93" fill="#2b1959"/>
<rect x="1363.0" y="146.20" width="18.9" height="6.93" fill="#0d0c15"/>
<rect x="1401.7" y="146.20" width="20.5" height="6.93" fill="#0d0c15"/>
<rect x="1422.3" y="146.20" width="21.2" height="6.93" fill="#3c1f66"/>
<rect x="1443.4" y="146.20" width="21.7" height="6.93" fill="#522572"/>
<rect x="1465.1" y="146.20" width="22.1" height="6.93" fill="#3c1f66"/>
<rect x="1487.2" y="146.20" width="22.3" height="6.93" fill="#872a72"/>
<rect x="1509.5" y="146.20" width="22.4" height="6.93" fill="#1b1142"/>
<rect x="1531.8" y="146.20" width="44.2" height="6.93" fill="#6c2a78"/>
<rect x="1576.0" y="146.20" width="21.5" height="6.93" fill="#872a72"/>
<rect x="1597.5" y="146.20" width="20.9" height="6.93" fill="#3c1f66"/>
<rect x="1618.4" y="146.20" width="20.2" height="6.93" fill="#0d0c15"/>
<rect x="1255.2" y="153.13" width="12.8" height="6.93" fill="#0d0c15"/>
<rect x="1268.0" y="153.13" width="28.1" height="6.93" fill="#1b1142"/>
<rect x="1296.1" y="153.13" width="31.6" height="6.93" fill="#3c1f66"/>
<rect x="1327.8" y="153.13" width="17.2" height="6.93" fill="#522572"/>
<rect x="1344.9" y="153.13" width="18.1" height="6.93" fill="#2b1959"/>
<rect x="1363.0" y="153.13" width="18.9" height="6.93" fill="#1b1142"/>
<rect x="1401.7" y="153.13" width="20.5" height="6.93" fill="#0d0c15"/>
<rect x="1422.3" y="153.13" width="21.2" height="6.93" fill="#1b1142"/>
<rect x="1443.4" y="153.13" width="21.7" height="6.93" fill="#522572"/>
<rect x="1465.1" y="153.13" width="66.7" height="6.93" fill="#6c2a78"/>
<rect x="1531.8" y="153.13" width="22.2" height="6.93" fill="#522572"/>
<rect x="1554.1" y="153.13" width="21.9" height="6.93" fill="#3c1f66"/>
<rect x="1576.0" y="153.13" width="21.5" height="6.93" fill="#872a72"/>
<rect x="1597.5" y="153.13" width="20.9" height="6.93" fill="#2b1959"/>
<rect x="1255.2" y="160.05" width="26.5" height="6.93" fill="#0d0c15"/>
<rect x="1281.6" y="160.05" width="29.9" height="6.93" fill="#1b1142"/>
<rect x="1311.5" y="160.05" width="33.4" height="6.93" fill="#522572"/>
<rect x="1344.9" y="160.05" width="18.1" height="6.93" fill="#2b1959"/>
<rect x="1363.0" y="160.05" width="18.9" height="6.93" fill="#1b1142"/>
<rect x="1382.0" y="160.05" width="19.8" height="6.93" fill="#0d0c15"/>
<rect x="1422.3" y="160.05" width="21.2" height="6.93" fill="#3c1f66"/>
<rect x="1443.4" y="160.05" width="21.7" height="6.93" fill="#6c2a78"/>
<rect x="1465.1" y="160.05" width="22.1" height="6.93" fill="#522572"/>
<rect x="1487.2" y="160.05" width="22.3" height="6.93" fill="#872a72"/>
<rect x="1509.5" y="160.05" width="22.4" height="6.93" fill="#6c2a78"/>
<rect x="1531.8" y="160.05" width="22.2" height="6.93" fill="#3c1f66"/>
<rect x="1554.1" y="160.05" width="21.9" height="6.93" fill="#6c2a78"/>
<rect x="1576.0" y="160.05" width="21.5" height="6.93" fill="#522572"/>
<rect x="1597.5" y="160.05" width="20.9" height="6.93" fill="#3c1f66"/>
<rect x="1268.0" y="166.98" width="13.6" height="6.93" fill="#0d0c15"/>
<rect x="1281.6" y="166.98" width="29.9" height="6.93" fill="#1b1142"/>
<rect x="1311.5" y="166.98" width="33.4" height="6.93" fill="#522572"/>
<rect x="1344.9" y="166.98" width="18.1" height="6.93" fill="#3c1f66"/>
<rect x="1363.0" y="166.98" width="18.9" height="6.93" fill="#1b1142"/>
<rect x="1382.0" y="166.98" width="40.3" height="6.93" fill="#0d0c15"/>
<rect x="1422.3" y="166.98" width="64.9" height="6.93" fill="#3c1f66"/>
<rect x="1487.2" y="166.98" width="22.3" height="6.93" fill="#b13762"/>
<rect x="1509.5" y="166.98" width="22.4" height="6.93" fill="#3c1f66"/>
<rect x="1531.8" y="166.98" width="44.2" height="6.93" fill="#522572"/>
<rect x="1576.0" y="166.98" width="21.5" height="6.93" fill="#b13762"/>
<rect x="1597.5" y="166.98" width="20.9" height="6.93" fill="#2b1959"/>
<rect x="1618.4" y="166.98" width="20.2" height="6.93" fill="#0d0c15"/>
<rect x="1268.0" y="173.91" width="13.6" height="6.93" fill="#0d0c15"/>
<rect x="1281.6" y="173.91" width="29.9" height="6.93" fill="#1b1142"/>
<rect x="1311.5" y="173.91" width="16.3" height="6.93" fill="#2b1959"/>
<rect x="1327.8" y="173.91" width="17.2" height="6.93" fill="#522572"/>
<rect x="1344.9" y="173.91" width="18.1" height="6.93" fill="#6c2a78"/>
<rect x="1363.0" y="173.91" width="18.9" height="6.93" fill="#2b1959"/>
<rect x="1382.0" y="173.91" width="19.8" height="6.93" fill="#0d0c15"/>
<rect x="1422.3" y="173.91" width="42.9" height="6.93" fill="#522572"/>
<rect x="1465.1" y="173.91" width="44.4" height="6.93" fill="#3c1f66"/>
<rect x="1509.5" y="173.91" width="22.4" height="6.93" fill="#6c2a78"/>
<rect x="1531.8" y="173.91" width="22.2" height="6.93" fill="#3c1f66"/>
<rect x="1554.1" y="173.91" width="21.9" height="6.93" fill="#522572"/>
<rect x="1576.0" y="173.91" width="21.5" height="6.93" fill="#b13762"/>
<rect x="1597.5" y="173.91" width="20.9" height="6.93" fill="#2b1959"/>
<rect x="1268.0" y="180.83" width="13.6" height="6.93" fill="#0d0c15"/>
<rect x="1281.6" y="180.83" width="29.9" height="6.93" fill="#1b1142"/>
<rect x="1311.5" y="180.83" width="33.4" height="6.93" fill="#522572"/>
<rect x="1344.9" y="180.83" width="18.1" height="6.93" fill="#b13762"/>
<rect x="1363.0" y="180.83" width="18.9" height="6.93" fill="#3c1f66"/>
<rect x="1382.0" y="180.83" width="19.8" height="6.93" fill="#1b1142"/>
<rect x="1401.7" y="180.83" width="20.5" height="6.93" fill="#0d0c15"/>
<rect x="1422.3" y="180.83" width="42.9" height="6.93" fill="#2b1959"/>
<rect x="1465.1" y="180.83" width="66.7" height="6.93" fill="#3c1f66"/>
<rect x="1531.8" y="180.83" width="22.2" height="6.93" fill="#6c2a78"/>
<rect x="1554.1" y="180.83" width="43.4" height="6.93" fill="#522572"/>
<rect x="1597.5" y="180.83" width="20.9" height="6.93" fill="#1b1142"/>
<rect x="1268.0" y="187.76" width="13.6" height="6.93" fill="#0d0c15"/>
<rect x="1281.6" y="187.76" width="29.9" height="6.93" fill="#1b1142"/>
<rect x="1311.5" y="187.76" width="33.4" height="6.93" fill="#522572"/>
<rect x="1344.9" y="187.76" width="18.1" height="6.93" fill="#6c2a78"/>
<rect x="1363.0" y="187.76" width="18.9" height="6.93" fill="#522572"/>
<rect x="1382.0" y="187.76" width="19.8" height="6.93" fill="#1b1142"/>
<rect x="1422.3" y="187.76" width="21.2" height="6.93" fill="#3c1f66"/>
<rect x="1443.4" y="187.76" width="21.7" height="6.93" fill="#2b1959"/>
<rect x="1465.1" y="187.76" width="66.7" height="6.93" fill="#3c1f66"/>
<rect x="1531.8" y="187.76" width="22.2" height="6.93" fill="#b13762"/>
<rect x="1554.1" y="187.76" width="21.9" height="6.93" fill="#2b1959"/>
<rect x="1576.0" y="187.76" width="21.5" height="6.93" fill="#b13762"/>
<rect x="1597.5" y="187.76" width="20.9" height="6.93" fill="#1b1142"/>
<rect x="1618.4" y="187.76" width="20.2" height="6.93" fill="#0d0c15"/>
<rect x="1268.0" y="194.68" width="13.6" height="6.93" fill="#0d0c15"/>
<rect x="1281.6" y="194.68" width="29.9" height="6.93" fill="#1b1142"/>
<rect x="1311.5" y="194.68" width="16.3" height="6.93" fill="#2b1959"/>
<rect x="1327.8" y="194.68" width="35.2" height="6.93" fill="#6c2a78"/>
<rect x="1363.0" y="194.68" width="18.9" height="6.93" fill="#522572"/>
<rect x="1382.0" y="194.68" width="19.8" height="6.93" fill="#1b1142"/>
<rect x="1401.7" y="194.68" width="20.5" height="6.93" fill="#0d0c15"/>
<rect x="1422.3" y="194.68" width="42.9" height="6.93" fill="#522572"/>
<rect x="1465.1" y="194.68" width="22.1" height="6.93" fill="#3c1f66"/>
<rect x="1487.2" y="194.68" width="22.3" height="6.93" fill="#872a72"/>
<rect x="1509.5" y="194.68" width="22.4" height="6.93" fill="#522572"/>
<rect x="1531.8" y="194.68" width="22.2" height="6.93" fill="#3c1f66"/>
<rect x="1554.1" y="194.68" width="43.4" height="6.93" fill="#522572"/>
<rect x="1597.5" y="194.68" width="20.9" height="6.93" fill="#3c1f66"/>
<rect x="1281.6" y="201.61" width="14.5" height="6.93" fill="#1b1142"/>
<rect x="1296.1" y="201.61" width="31.6" height="6.93" fill="#2b1959"/>
<rect x="1327.8" y="201.61" width="35.2" height="6.93" fill="#522572"/>
<rect x="1363.0" y="201.61" width="18.9" height="6.93" fill="#872a72"/>
<rect x="1382.0" y="201.61" width="19.8" height="6.93" fill="#2b1959"/>
<rect x="1401.7" y="201.61" width="20.5" height="6.93" fill="#0d0c15"/>
<rect x="1422.3" y="201.61" width="21.2" height="6.93" fill="#1b1142"/>
<rect x="1443.4" y="201.61" width="43.8" height="6.93" fill="#2b1959"/>
<rect x="1487.2" y="201.61" width="22.3" height="6.93" fill="#522572"/>
<rect x="1509.5" y="201.61" width="22.4" height="6.93" fill="#6c2a78"/>
<rect x="1531.8" y="201.61" width="22.2" height="6.93" fill="#b13762"/>
<rect x="1554.1" y="201.61" width="21.9" height="6.93" fill="#6c2a78"/>
<rect x="1576.0" y="201.61" width="21.5" height="6.93" fill="#2b1959"/>
<rect x="1597.5" y="201.61" width="20.9" height="6.93" fill="#1b1142"/>
<rect x="1618.4" y="201.61" width="20.2" height="6.93" fill="#0d0c15"/>
<rect x="1281.6" y="208.53" width="14.5" height="6.93" fill="#2b1959"/>
<rect x="1296.1" y="208.53" width="31.6" height="6.93" fill="#1b1142"/>
<rect x="1327.8" y="208.53" width="35.2" height="6.93" fill="#522572"/>
<rect x="1363.0" y="208.53" width="18.9" height="6.93" fill="#6c2a78"/>
<rect x="1382.0" y="208.53" width="19.8" height="6.93" fill="#522572"/>
<rect x="1401.7" y="208.53" width="20.5" height="6.93" fill="#0d0c15"/>
<rect x="1422.3" y="208.53" width="21.2" height="6.93" fill="#1b1142"/>
<rect x="1443.4" y="208.53" width="21.7" height="6.93" fill="#522572"/>
<rect x="1465.1" y="208.53" width="22.1" height="6.93" fill="#3c1f66"/>
<rect x="1487.2" y="208.53" width="44.6" height="6.93" fill="#6c2a78"/>
<rect x="1531.8" y="208.53" width="22.2" height="6.93" fill="#2b1959"/>
<rect x="1554.1" y="208.53" width="21.9" height="6.93" fill="#3c1f66"/>
<rect x="1576.0" y="208.53" width="21.5" height="6.93" fill="#6c2a78"/>
<rect x="1597.5" y="208.53" width="20.9" height="6.93" fill="#2b1959"/>
<rect x="1281.6" y="215.46" width="29.9" height="6.93" fill="#1b1142"/>
<rect x="1311.5" y="215.46" width="16.3" height="6.93" fill="#3c1f66"/>
<rect x="1327.8" y="215.46" width="35.2" height="6.93" fill="#522572"/>
<rect x="1363.0" y="215.46" width="38.7" height="6.93" fill="#6c2a78"/>
<rect x="1401.7" y="215.46" width="20.5" height="6.93" fill="#1b1142"/>
<rect x="1422.3" y="215.46" width="21.2" height="6.93" fill="#522572"/>
<rect x="1443.4" y="215.46" width="43.8" height="6.93" fill="#3c1f66"/>
<rect x="1487.2" y="215.46" width="22.3" height="6.93" fill="#6c2a78"/>
<rect x="1509.5" y="215.46" width="22.4" height="6.93" fill="#1b1142"/>
<rect x="1531.8" y="215.46" width="22.2" height="6.93" fill="#3c1f66"/>
<rect x="1554.1" y="215.46" width="43.4" height="6.93" fill="#522572"/>
<rect x="1597.5" y="215.46" width="20.9" height="6.93" fill="#3c1f66"/>
<rect x="1281.6" y="222.39" width="14.5" height="6.93" fill="#1b1142"/>
<rect x="1296.1" y="222.39" width="31.6" height="6.93" fill="#2b1959"/>
<rect x="1327.8" y="222.39" width="35.2" height="6.93" fill="#3c1f66"/>
<rect x="1363.0" y="222.39" width="38.7" height="6.93" fill="#872a72"/>
<rect x="1401.7" y="222.39" width="20.5" height="6.93" fill="#2b1959"/>
<rect x="1422.3" y="222.39" width="42.9" height="6.93" fill="#3c1f66"/>
<rect x="1465.1" y="222.39" width="22.1" height="6.93" fill="#2b1959"/>
<rect x="1487.2" y="222.39" width="22.3" height="6.93" fill="#522572"/>
<rect x="1509.5" y="222.39" width="22.4" height="6.93" fill="#3c1f66"/>
<rect x="1531.8" y="222.39" width="44.2" height="6.93" fill="#522572"/>
<rect x="1576.0" y="222.39" width="21.5" height="6.93" fill="#2b1959"/>
<rect x="1597.5" y="222.39" width="20.9" height="6.93" fill="#1b1142"/>
<rect x="1618.4" y="222.39" width="20.2" height="6.93" fill="#0d0c15"/>
<rect x="1281.6" y="229.31" width="46.1" height="6.93" fill="#1b1142"/>
<rect x="1327.8" y="229.31" width="17.2" height="6.93" fill="#3c1f66"/>
<rect x="1344.9" y="229.31" width="18.1" height="6.93" fill="#1b1142"/>
<rect x="1363.0" y="229.31" width="18.9" height="6.93" fill="#522572"/>
<rect x="1382.0" y="229.31" width="19.8" height="6.93" fill="#6c2a78"/>
<rect x="1401.7" y="229.31" width="20.5" height="6.93" fill="#2b1959"/>
<rect x="1422.3" y="229.31" width="21.2" height="6.93" fill="#3c1f66"/>
<rect x="1443.4" y="229.31" width="43.8" height="6.93" fill="#2b1959"/>
<rect x="1487.2" y="229.31" width="22.3" height="6.93" fill="#872a72"/>
<rect x="1509.5" y="229.31" width="22.4" height="6.93" fill="#b13762"/>
<rect x="1531.8" y="229.31" width="22.2" height="6.93" fill="#3c1f66"/>
<rect x="1554.1" y="229.31" width="21.9" height="6.93" fill="#522572"/>
<rect x="1576.0" y="229.31" width="21.5" height="6.93" fill="#2b1959"/>
<rect x="1597.5" y="229.31" width="20.9" height="6.93" fill="#1b1142"/>
<rect x="1281.6" y="236.24" width="14.5" height="6.93" fill="#0d0c15"/>
<rect x="1296.1" y="236.24" width="15.4" height="6.93" fill="#2b1959"/>
<rect x="1311.5" y="236.24" width="16.3" height="6.93" fill="#1b1142"/>
<rect x="1327.8" y="236.24" width="17.2" height="6.93" fill="#2b1959"/>
<rect x="1344.9" y="236.24" width="18.1" height="6.93" fill="#1b1142"/>
<rect x="1363.0" y="236.24" width="18.9" height="6.93" fill="#6c2a78"/>
<rect x="1382.0" y="236.24" width="19.8" height="6.93" fill="#872a72"/>
<rect x="1401.7" y="236.24" width="20.5" height="6.93" fill="#522572"/>
<rect x="1422.3" y="236.24" width="21.2" height="6.93" fill="#1b1142"/>
<rect x="1443.4" y="236.24" width="21.7" height="6.93" fill="#522572"/>
<rect x="1465.1" y="236.24" width="22.1" height="6.93" fill="#3c1f66"/>
<rect x="1487.2" y="236.24" width="44.6" height="6.93" fill="#6c2a78"/>
<rect x="1531.8" y="236.24" width="22.2" height="6.93" fill="#3c1f66"/>
<rect x="1554.1" y="236.24" width="21.9" height="6.93" fill="#6c2a78"/>
<rect x="1576.0" y="236.24" width="42.4" height="6.93" fill="#1b1142"/>
<rect x="1618.4" y="236.24" width="20.2" height="6.93" fill="#0d0c15"/>
<rect x="1281.6" y="243.16" width="14.5" height="6.93" fill="#0d0c15"/>
<rect x="1296.1" y="243.16" width="15.4" height="6.93" fill="#3c1f66"/>
<rect x="1311.5" y="243.16" width="16.3" height="6.93" fill="#1b1142"/>
<rect x="1327.8" y="243.16" width="17.2" height="6.93" fill="#3c1f66"/>
<rect x="1344.9" y="243.16" width="18.1" height="6.93" fill="#1b1142"/>
<rect x="1363.0" y="243.16" width="18.9" height="6.93" fill="#3c1f66"/>
<rect x="1382.0" y="243.16" width="19.8" height="6.93" fill="#522572"/>
<rect x="1401.7" y="243.16" width="20.5" height="6.93" fill="#6c2a78"/>
<rect x="1422.3" y="243.16" width="21.2" height="6.93" fill="#3c1f66"/>
<rect x="1443.4" y="243.16" width="21.7" height="6.93" fill="#1b1142"/>
<rect x="1465.1" y="243.16" width="22.1" height="6.93" fill="#872a72"/>
<rect x="1487.2" y="243.16" width="44.6" height="6.93" fill="#522572"/>
<rect x="1531.8" y="243.16" width="22.2" height="6.93" fill="#1b1142"/>
<rect x="1554.1" y="243.16" width="21.9" height="6.93" fill="#522572"/>
<rect x="1576.0" y="243.16" width="21.5" height="6.93" fill="#6c2a78"/>
<rect x="1597.5" y="243.16" width="20.9" height="6.93" fill="#3c1f66"/>
<rect x="1296.1" y="250.09" width="48.8" height="6.93" fill="#3c1f66"/>
<rect x="1344.9" y="250.09" width="18.1" height="6.93" fill="#1b1142"/>
<rect x="1363.0" y="250.09" width="18.9" height="6.93" fill="#3c1f66"/>
<rect x="1382.0" y="250.09" width="19.8" height="6.93" fill="#6c2a78"/>
<rect x="1401.7" y="250.09" width="20.5" height="6.93" fill="#522572"/>
<rect x="1422.3" y="250.09" width="64.9" height="6.93" fill="#3c1f66"/>
<rect x="1487.2" y="250.09" width="22.3" height="6.93" fill="#522572"/>
<rect x="1509.5" y="250.09" width="22.4" height="6.93" fill="#6c2a78"/>
<rect x="1531.8" y="250.09" width="22.2" height="6.93" fill="#2b1959"/>
<rect x="1554.1" y="250.09" width="21.9" height="6.93" fill="#6c2a78"/>
<rect x="1576.0" y="250.09" width="21.5" height="6.93" fill="#3c1f66"/>
<rect x="1597.5" y="250.09" width="20.9" height="6.93" fill="#2b1959"/>
<rect x="1296.1" y="257.01" width="15.4" height="6.93" fill="#3c1f66"/>
<rect x="1311.5" y="257.01" width="16.3" height="6.93" fill="#522572"/>
<rect x="1327.8" y="257.01" width="54.2" height="6.93" fill="#3c1f66"/>
<rect x="1382.0" y="257.01" width="19.8" height="6.93" fill="#872a72"/>
<rect x="1401.7" y="257.01" width="20.5" height="6.93" fill="#6c2a78"/>
<rect x="1422.3" y="257.01" width="64.9" height="6.93" fill="#522572"/>
<rect x="1487.2" y="257.01" width="44.6" height="6.93" fill="#3c1f66"/>
<rect x="1531.8" y="257.01" width="44.2" height="6.93" fill="#2b1959"/>
<rect x="1576.0" y="257.01" width="21.5" height="6.93" fill="#3c1f66"/>
<rect x="1597.5" y="257.01" width="20.9" height="6.93" fill="#1b1142"/>
<rect x="1296.1" y="263.94" width="15.4" height="6.93" fill="#1b1142"/>
<rect x="1311.5" y="263.94" width="33.4" height="6.93" fill="#522572"/>
<rect x="1344.9" y="263.94" width="37.0" height="6.93" fill="#2b1959"/>
<rect x="1382.0" y="263.94" width="19.8" height="6.93" fill="#522572"/>
<rect x="1401.7" y="263.94" width="41.7" height="6.93" fill="#6c2a78"/>
<rect x="1443.4" y="263.94" width="43.8" height="6.93" fill="#3c1f66"/>
<rect x="1487.2" y="263.94" width="22.3" height="6.93" fill="#522572"/>
<rect x="1509.5" y="263.94" width="22.4" height="6.93" fill="#872a72"/>
<rect x="1531.8" y="263.94" width="22.2" height="6.93" fill="#522572"/>
<rect x="1554.1" y="263.94" width="21.9" height="6.93" fill="#3c1f66"/>
<rect x="1576.0" y="263.94" width="42.4" height="6.93" fill="#1b1142"/>
<rect x="1296.1" y="270.87" width="15.4" height="6.93" fill="#1b1142"/>
<rect x="1311.5" y="270.87" width="16.3" height="6.93" fill="#522572"/>
<rect x="1327.8" y="270.87" width="17.2" height="6.93" fill="#3c1f66"/>
<rect x="1344.9" y="270.87" width="18.1" height="6.93" fill="#2b1959"/>
<rect x="1363.0" y="270.87" width="18.9" height="6.93" fill="#1b1142"/>
<rect x="1382.0" y="270.87" width="19.8" height="6.93" fill="#3c1f66"/>
<rect x="1401.7" y="270.87" width="20.5" height="6.93" fill="#b13762"/>
<rect x="1422.3" y="270.87" width="21.2" height="6.93" fill="#872a72"/>
<rect x="1443.4" y="270.87" width="43.8" height="6.93" fill="#3c1f66"/>
<rect x="1487.2" y="270.87" width="22.3" height="6.93" fill="#6c2a78"/>
<rect x="1509.5" y="270.87" width="22.4" height="6.93" fill="#1b1142"/>
<rect x="1531.8" y="270.87" width="22.2" height="6.93" fill="#2b1959"/>
<rect x="1554.1" y="270.87" width="43.4" height="6.93" fill="#522572"/>
<rect x="1597.5" y="270.87" width="20.9" height="6.93" fill="#1b1142"/>
<rect x="1296.1" y="277.79" width="15.4" height="6.93" fill="#0d0c15"/>
<rect x="1311.5" y="277.79" width="16.3" height="6.93" fill="#3c1f66"/>
<rect x="1327.8" y="277.79" width="17.2" height="6.93" fill="#522572"/>
<rect x="1344.9" y="277.79" width="56.8" height="6.93" fill="#2b1959"/>
<rect x="1401.7" y="277.79" width="20.5" height="6.93" fill="#522572"/>
<rect x="1422.3" y="277.79" width="21.2" height="6.93" fill="#872a72"/>
<rect x="1443.4" y="277.79" width="43.8" height="6.93" fill="#3c1f66"/>
<rect x="1487.2" y="277.79" width="22.3" height="6.93" fill="#6c2a78"/>
<rect x="1509.5" y="277.79" width="22.4" height="6.93" fill="#872a72"/>
<rect x="1531.8" y="277.79" width="44.2" height="6.93" fill="#3c1f66"/>
<rect x="1576.0" y="277.79" width="21.5" height="6.93" fill="#522572"/>
<rect x="1597.5" y="277.79" width="20.9" height="6.93" fill="#3c1f66"/>
<rect x="1311.5" y="284.72" width="33.4" height="6.93" fill="#3c1f66"/>
<rect x="1344.9" y="284.72" width="56.8" height="6.93" fill="#2b1959"/>
<rect x="1401.7" y="284.72" width="20.5" height="6.93" fill="#6c2a78"/>
<rect x="1422.3" y="284.72" width="21.2" height="6.93" fill="#b13762"/>
<rect x="1443.4" y="284.72" width="21.7" height="6.93" fill="#872a72"/>
<rect x="1465.1" y="284.72" width="22.1" height="6.93" fill="#6c2a78"/>
<rect x="1487.2" y="284.72" width="22.3" height="6.93" fill="#2b1959"/>
<rect x="1509.5" y="284.72" width="22.4" height="6.93" fill="#522572"/>
<rect x="1531.8" y="284.72" width="22.2" height="6.93" fill="#1b1142"/>
<rect x="1554.1" y="284.72" width="43.4" height="6.93" fill="#3c1f66"/>
<rect x="1597.5" y="284.72" width="20.9" height="6.93" fill="#1b1142"/>
<rect x="1311.5" y="291.64" width="16.3" height="6.93" fill="#3c1f66"/>
<rect x="1327.8" y="291.64" width="17.2" height="6.93" fill="#522572"/>
<rect x="1344.9" y="291.64" width="18.1" height="6.93" fill="#3c1f66"/>
<rect x="1363.0" y="291.64" width="38.7" height="6.93" fill="#2b1959"/>
<rect x="1401.7" y="291.64" width="20.5" height="6.93" fill="#522572"/>
<rect x="1422.3" y="291.64" width="21.2" height="6.93" fill="#d0474d"/>
<rect x="1443.4" y="291.64" width="21.7" height="6.93" fill="#872a72"/>
<rect x="1465.1" y="291.64" width="22.1" height="6.93" fill="#522572"/>
<rect x="1487.2" y="291.64" width="44.6" height="6.93" fill="#3c1f66"/>
<rect x="1531.8" y="291.64" width="22.2" height="6.93" fill="#872a72"/>
<rect x="1554.1" y="291.64" width="21.9" height="6.93" fill="#2b1959"/>
<rect x="1576.0" y="291.64" width="21.5" height="6.93" fill="#1b1142"/>
<rect x="1597.5" y="291.64" width="20.9" height="6.93" fill="#2b1959"/>
<rect x="1311.5" y="298.57" width="16.3" height="6.93" fill="#1b1142"/>
<rect x="1327.8" y="298.57" width="17.2" height="6.93" fill="#3c1f66"/>
<rect x="1344.9" y="298.57" width="18.1" height="6.93" fill="#522572"/>
<rect x="1363.0" y="298.57" width="38.7" height="6.93" fill="#2b1959"/>
<rect x="1401.7" y="298.57" width="20.5" height="6.93" fill="#3c1f66"/>
<rect x="1422.3" y="298.57" width="21.2" height="6.93" fill="#e46333"/>
<rect x="1443.4" y="298.57" width="21.7" height="6.93" fill="#872a72"/>
<rect x="1465.1" y="298.57" width="44.4" height="6.93" fill="#522572"/>
<rect x="1509.5" y="298.57" width="22.4" height="6.93" fill="#3c1f66"/>
<rect x="1531.8" y="298.57" width="22.2" height="6.93" fill="#1b1142"/>
<rect x="1554.1" y="298.57" width="21.9" height="6.93" fill="#3c1f66"/>
<rect x="1576.0" y="298.57" width="21.5" height="6.93" fill="#522572"/>
<rect x="1597.5" y="298.57" width="20.9" height="6.93" fill="#1b1142"/>
<rect x="1311.5" y="305.50" width="16.3" height="6.93" fill="#1b1142"/>
<rect x="1327.8" y="305.50" width="17.2" height="6.93" fill="#3c1f66"/>
<rect x="1344.9" y="305.50" width="18.1" height="6.93" fill="#522572"/>
<rect x="1363.0" y="305.50" width="38.7" height="6.93" fill="#2b1959"/>
<rect x="1401.7" y="305.50" width="20.5" height="6.93" fill="#3c1f66"/>
<rect x="1422.3" y="305.50" width="21.2" height="6.93" fill="#d0474d"/>
<rect x="1443.4" y="305.50" width="43.8" height="6.93" fill="#872a72"/>
<rect x="1487.2" y="305.50" width="44.6" height="6.93" fill="#3c1f66"/>
<rect x="1531.8" y="305.50" width="44.2" height="6.93" fill="#2b1959"/>
<rect x="1576.0" y="305.50" width="42.4" height="6.93" fill="#1b1142"/>
<rect x="1311.5" y="312.42" width="16.3" height="6.93" fill="#0d0c15"/>
<rect x="1327.8" y="312.42" width="35.2" height="6.93" fill="#3c1f66"/>
<rect x="1363.0" y="312.42" width="18.9" height="6.93" fill="#2b1959"/>
<rect x="1382.0" y="312.42" width="40.3" height="6.93" fill="#3c1f66"/>
<rect x="1422.3" y="312.42" width="42.9" height="6.93" fill="#b13762"/>
<rect x="1465.1" y="312.42" width="22.1" height="6.93" fill="#6c2a78"/>
<rect x="1487.2" y="312.42" width="22.3" height="6.93" fill="#b13762"/>
<rect x="1509.5" y="312.42" width="44.6" height="6.93" fill="#2b1959"/>
<rect x="1554.1" y="312.42" width="21.9" height="6.93" fill="#872a72"/>
<rect x="1576.0" y="312.42" width="42.4" height="6.93" fill="#1b1142"/>
<rect x="1327.8" y="319.35" width="35.2" height="6.93" fill="#3c1f66"/>
<rect x="1363.0" y="319.35" width="18.9" height="6.93" fill="#1b1142"/>
<rect x="1382.0" y="319.35" width="19.8" height="6.93" fill="#2b1959"/>
<rect x="1401.7" y="319.35" width="20.5" height="6.93" fill="#1b1142"/>
<rect x="1422.3" y="319.35" width="21.2" height="6.93" fill="#522572"/>
<rect x="1443.4" y="319.35" width="21.7" height="6.93" fill="#872a72"/>
<rect x="1465.1" y="319.35" width="22.1" height="6.93" fill="#b13762"/>
<rect x="1487.2" y="319.35" width="44.6" height="6.93" fill="#872a72"/>
<rect x="1531.8" y="319.35" width="22.2" height="6.93" fill="#3c1f66"/>
<rect x="1554.1" y="319.35" width="21.9" height="6.93" fill="#872a72"/>
<rect x="1576.0" y="319.35" width="42.4" height="6.93" fill="#1b1142"/>
<rect x="1327.8" y="326.27" width="17.2" height="6.93" fill="#3c1f66"/>
<rect x="1344.9" y="326.27" width="18.1" height="6.93" fill="#2b1959"/>
<rect x="1363.0" y="326.27" width="18.9" height="6.93" fill="#522572"/>
<rect x="1382.0" y="326.27" width="40.3" height="6.93" fill="#2b1959"/>
<rect x="1422.3" y="326.27" width="21.2" height="6.93" fill="#522572"/>
<rect x="1443.4" y="326.27" width="43.8" height="6.93" fill="#d0474d"/>
<rect x="1487.2" y="326.27" width="22.3" height="6.93" fill="#872a72"/>
<rect x="1509.5" y="326.27" width="22.4" height="6.93" fill="#2b1959"/>
<rect x="1531.8" y="326.27" width="22.2" height="6.93" fill="#3c1f66"/>
<rect x="1554.1" y="326.27" width="21.9" height="6.93" fill="#1b1142"/>
<rect x="1576.0" y="326.27" width="21.5" height="6.93" fill="#522572"/>
<rect x="1597.5" y="326.27" width="20.9" height="6.93" fill="#3c1f66"/>
<rect x="1327.8" y="333.20" width="17.2" height="6.93" fill="#1b1142"/>
<rect x="1344.9" y="333.20" width="18.1" height="6.93" fill="#2b1959"/>
<rect x="1363.0" y="333.20" width="18.9" height="6.93" fill="#522572"/>
<rect x="1382.0" y="333.20" width="40.3" height="6.93" fill="#3c1f66"/>
<rect x="1422.3" y="333.20" width="21.2" height="6.93" fill="#522572"/>
<rect x="1443.4" y="333.20" width="21.7" height="6.93" fill="#872a72"/>
<rect x="1465.1" y="333.20" width="22.1" height="6.93" fill="#b13762"/>
<rect x="1487.2" y="333.20" width="22.3" height="6.93" fill="#e46333"/>
<rect x="1509.5" y="333.20" width="22.4" height="6.93" fill="#0d0c15"/>
<rect x="1531.8" y="333.20" width="22.2" height="6.93" fill="#2b1959"/>
<rect x="1554.1" y="333.20" width="21.9" height="6.93" fill="#6c2a78"/>
<rect x="1576.0" y="333.20" width="21.5" height="6.93" fill="#3c1f66"/>
<rect x="1597.5" y="333.20" width="20.9" height="6.93" fill="#1b1142"/>
<rect x="1327.8" y="340.12" width="17.2" height="6.93" fill="#1b1142"/>
<rect x="1344.9" y="340.12" width="18.1" height="6.93" fill="#2b1959"/>
<rect x="1363.0" y="340.12" width="18.9" height="6.93" fill="#522572"/>
<rect x="1382.0" y="340.12" width="40.3" height="6.93" fill="#3c1f66"/>
<rect x="1422.3" y="340.12" width="21.2" height="6.93" fill="#872a72"/>
<rect x="1443.4" y="340.12" width="21.7" height="6.93" fill="#b13762"/>
<rect x="1465.1" y="340.12" width="22.1" height="6.93" fill="#d0474d"/>
<rect x="1487.2" y="340.12" width="22.3" height="6.93" fill="#b13762"/>
<rect x="1509.5" y="340.12" width="22.4" height="6.93" fill="#2b1959"/>
<rect x="1531.8" y="340.12" width="22.2" height="6.93" fill="#1b1142"/>
<rect x="1554.1" y="340.12" width="21.9" height="6.93" fill="#522572"/>
<rect x="1576.0" y="340.12" width="21.5" height="6.93" fill="#2b1959"/>
<rect x="1597.5" y="340.12" width="20.9" height="6.93" fill="#1b1142"/>
<rect x="1327.8" y="347.05" width="17.2" height="6.93" fill="#0d0c15"/>
<rect x="1344.9" y="347.05" width="37.0" height="6.93" fill="#3c1f66"/>
<rect x="1382.0" y="347.05" width="19.8" height="6.93" fill="#522572"/>
<rect x="1401.7" y="347.05" width="20.5" height="6.93" fill="#3c1f66"/>
<rect x="1422.3" y="347.05" width="21.2" height="6.93" fill="#522572"/>
<rect x="1443.4" y="347.05" width="21.7" height="6.93" fill="#872a72"/>
<rect x="1465.1" y="347.05" width="22.1" height="6.93" fill="#b13762"/>
<rect x="1487.2" y="347.05" width="22.3" height="6.93" fill="#e88c30"/>
<rect x="1509.5" y="347.05" width="66.5" height="6.93" fill="#3c1f66"/>
<rect x="1576.0" y="347.05" width="21.5" height="6.93" fill="#1b1142"/>
<rect x="1597.5" y="347.05" width="20.9" height="6.93" fill="#0d0c15"/>
<rect x="1344.9" y="353.98" width="18.1" height="6.93" fill="#2b1959"/>
<rect x="1363.0" y="353.98" width="18.9" height="6.93" fill="#3c1f66"/>
<rect x="1382.0" y="353.98" width="19.8" height="6.93" fill="#522572"/>
<rect x="1401.7" y="353.98" width="20.5" height="6.93" fill="#1b1142"/>
<rect x="1422.3" y="353.98" width="21.2" height="6.93" fill="#3c1f66"/>
<rect x="1443.4" y="353.98" width="21.7" height="6.93" fill="#872a72"/>
<rect x="1465.1" y="353.98" width="22.1" height="6.93" fill="#e88c30"/>
<rect x="1487.2" y="353.98" width="22.3" height="6.93" fill="#e46333"/>
<rect x="1509.5" y="353.98" width="22.4" height="6.93" fill="#1b1142"/>
<rect x="1531.8" y="353.98" width="22.2" height="6.93" fill="#522572"/>
<rect x="1554.1" y="353.98" width="21.9" height="6.93" fill="#0d0c15"/>
<rect x="1576.0" y="353.98" width="21.5" height="6.93" fill="#3c1f66"/>
<rect x="1597.5" y="353.98" width="20.9" height="6.93" fill="#1b1142"/>
<rect x="1344.9" y="360.90" width="18.1" height="6.93" fill="#1b1142"/>
<rect x="1363.0" y="360.90" width="18.9" height="6.93" fill="#2b1959"/>
<rect x="1382.0" y="360.90" width="19.8" height="6.93" fill="#6c2a78"/>
<rect x="1401.7" y="360.90" width="63.4" height="6.93" fill="#522572"/>
<rect x="1465.1" y="360.90" width="44.4" height="6.93" fill="#e46333"/>
<rect x="1509.5" y="360.90" width="22.4" height="6.93" fill="#522572"/>
<rect x="1531.8" y="360.90" width="22.2" height="6.93" fill="#3c1f66"/>
<rect x="1554.1" y="360.90" width="43.4" height="6.93" fill="#1b1142"/>
<rect x="1597.5" y="360.90" width="20.9" height="6.93" fill="#0d0c15"/>
<rect x="1344.9" y="367.83" width="18.1" height="6.93" fill="#0d0c15"/>
<rect x="1363.0" y="367.83" width="18.9" height="6.93" fill="#2b1959"/>
<rect x="1382.0" y="367.83" width="83.1" height="6.93" fill="#522572"/>
<rect x="1465.1" y="367.83" width="22.1" height="6.93" fill="#d0474d"/>
<rect x="1487.2" y="367.83" width="22.3" height="6.93" fill="#e46333"/>
<rect x="1509.5" y="367.83" width="22.4" height="6.93" fill="#872a72"/>
<rect x="1531.8" y="367.83" width="44.2" height="6.93" fill="#1b1142"/>
<rect x="1576.0" y="367.83" width="21.5" height="6.93" fill="#3c1f66"/>
<rect x="1597.5" y="367.83" width="20.9" height="6.93" fill="#0d0c15"/>
<rect x="1363.0" y="374.75" width="18.9" height="6.93" fill="#1b1142"/>
<rect x="1382.0" y="374.75" width="40.3" height="6.93" fill="#2b1959"/>
<rect x="1422.3" y="374.75" width="42.9" height="6.93" fill="#522572"/>
<rect x="1465.1" y="374.75" width="22.1" height="6.93" fill="#6c2a78"/>
<rect x="1487.2" y="374.75" width="22.3" height="6.93" fill="#eaf592"/>
<rect x="1509.5" y="374.75" width="22.4" height="6.93" fill="#b13762"/>
<rect x="1531.8" y="374.75" width="22.2" height="6.93" fill="#6c2a78"/>
<rect x="1554.1" y="374.75" width="43.4" height="6.93" fill="#2b1959"/>
<rect x="1597.5" y="374.75" width="20.9" height="6.93" fill="#0d0c15"/>
<rect x="1363.0" y="381.68" width="18.9" height="6.93" fill="#1b1142"/>
<rect x="1382.0" y="381.68" width="61.5" height="6.93" fill="#3c1f66"/>
<rect x="1443.4" y="381.68" width="21.7" height="6.93" fill="#6c2a78"/>
<rect x="1465.1" y="381.68" width="22.1" height="6.93" fill="#b13762"/>
<rect x="1487.2" y="381.68" width="22.3" height="6.93" fill="#e8b838"/>
<rect x="1509.5" y="381.68" width="22.4" height="6.93" fill="#872a72"/>
<rect x="1531.8" y="381.68" width="22.2" height="6.93" fill="#2b1959"/>
<rect x="1554.1" y="381.68" width="21.9" height="6.93" fill="#1b1142"/>
<rect x="1576.0" y="381.68" width="21.5" height="6.93" fill="#6c2a78"/>
<rect x="1597.5" y="381.68" width="20.9" height="6.93" fill="#0d0c15"/>
<rect x="1363.0" y="388.60" width="18.9" height="6.93" fill="#1b1142"/>
<rect x="1382.0" y="388.60" width="40.3" height="6.93" fill="#3c1f66"/>
<rect x="1422.3" y="388.60" width="42.9" height="6.93" fill="#522572"/>
<rect x="1465.1" y="388.60" width="22.1" height="6.93" fill="#872a72"/>
<rect x="1487.2" y="388.60" width="22.3" height="6.93" fill="#d0474d"/>
<rect x="1509.5" y="388.60" width="22.4" height="6.93" fill="#b13762"/>
<rect x="1531.8" y="388.60" width="22.2" height="6.93" fill="#6c2a78"/>
<rect x="1554.1" y="388.60" width="21.9" height="6.93" fill="#1b1142"/>
<rect x="1576.0" y="388.60" width="21.5" height="6.93" fill="#6c2a78"/>
<rect x="1597.5" y="388.60" width="20.9" height="6.93" fill="#1b1142"/>
<rect x="1363.0" y="395.53" width="18.9" height="6.93" fill="#1b1142"/>
<rect x="1382.0" y="395.53" width="40.3" height="6.93" fill="#3c1f66"/>
<rect x="1422.3" y="395.53" width="21.2" height="6.93" fill="#522572"/>
<rect x="1443.4" y="395.53" width="43.8" height="6.93" fill="#872a72"/>
<rect x="1487.2" y="395.53" width="22.3" height="6.93" fill="#b13762"/>
<rect x="1509.5" y="395.53" width="22.4" height="6.93" fill="#d0474d"/>
<rect x="1531.8" y="395.53" width="22.2" height="6.93" fill="#b13762"/>
<rect x="1554.1" y="395.53" width="21.9" height="6.93" fill="#2b1959"/>
<rect x="1576.0" y="395.53" width="42.4" height="6.93" fill="#1b1142"/>
<rect x="1363.0" y="402.46" width="18.9" height="6.93" fill="#0d0c15"/>
<rect x="1382.0" y="402.46" width="40.3" height="6.93" fill="#2b1959"/>
<rect x="1422.3" y="402.46" width="21.2" height="6.93" fill="#522572"/>
<rect x="1443.4" y="402.46" width="43.8" height="6.93" fill="#872a72"/>
<rect x="1487.2" y="402.46" width="22.3" height="6.93" fill="#d0474d"/>
<rect x="1509.5" y="402.46" width="22.4" height="6.93" fill="#b13762"/>
<rect x="1531.8" y="402.46" width="44.2" height="6.93" fill="#872a72"/>
<rect x="1576.0" y="402.46" width="21.5" height="6.93" fill="#3c1f66"/>
<rect x="1597.5" y="402.46" width="20.9" height="6.93" fill="#1b1142"/>
<rect x="1382.0" y="409.38" width="19.8" height="6.93" fill="#1b1142"/>
<rect x="1401.7" y="409.38" width="20.5" height="6.93" fill="#3c1f66"/>
<rect x="1422.3" y="409.38" width="42.9" height="6.93" fill="#522572"/>
<rect x="1465.1" y="409.38" width="22.1" height="6.93" fill="#b13762"/>
<rect x="1487.2" y="409.38" width="22.3" height="6.93" fill="#6c2a78"/>
<rect x="1509.5" y="409.38" width="22.4" height="6.93" fill="#e7e564"/>
<rect x="1531.8" y="409.38" width="22.2" height="6.93" fill="#872a72"/>
<rect x="1554.1" y="409.38" width="21.9" height="6.93" fill="#2b1959"/>
<rect x="1576.0" y="409.38" width="21.5" height="6.93" fill="#3c1f66"/>
<rect x="1597.5" y="409.38" width="20.9" height="6.93" fill="#1b1142"/>
<rect x="1382.0" y="416.31" width="19.8" height="6.93" fill="#1b1142"/>
<rect x="1401.7" y="416.31" width="20.5" height="6.93" fill="#2b1959"/>
<rect x="1422.3" y="416.31" width="21.2" height="6.93" fill="#522572"/>
<rect x="1443.4" y="416.31" width="21.7" height="6.93" fill="#b13762"/>
<rect x="1465.1" y="416.31" width="22.1" height="6.93" fill="#872a72"/>
<rect x="1487.2" y="416.31" width="22.3" height="6.93" fill="#b13762"/>
<rect x="1509.5" y="416.31" width="44.6" height="6.93" fill="#d0474d"/>
<rect x="1554.1" y="416.31" width="21.9" height="6.93" fill="#6c2a78"/>
<rect x="1576.0" y="416.31" width="21.5" height="6.93" fill="#1b1142"/>
<rect x="1597.5" y="416.31" width="20.9" height="6.93" fill="#0d0c15"/>
<rect x="1382.0" y="423.23" width="19.8" height="6.93" fill="#0d0c15"/>
<rect x="1401.7" y="423.23" width="20.5" height="6.93" fill="#2b1959"/>
<rect x="1422.3" y="423.23" width="21.2" height="6.93" fill="#522572"/>
<rect x="1443.4" y="423.23" width="21.7" height="6.93" fill="#3c1f66"/>
<rect x="1465.1" y="423.23" width="44.4" height="6.93" fill="#6c2a78"/>
<rect x="1509.5" y="423.23" width="22.4" height="6.93" fill="#b13762"/>
<rect x="1531.8" y="423.23" width="22.2" height="6.93" fill="#e88c30"/>
<rect x="1554.1" y="423.23" width="21.9" height="6.93" fill="#d0474d"/>
<rect x="1576.0" y="423.23" width="21.5" height="6.93" fill="#522572"/>
<rect x="1597.5" y="423.23" width="20.9" height="6.93" fill="#0d0c15"/>
<rect x="1382.0" y="430.16" width="19.8" height="6.93" fill="#0d0c15"/>
<rect x="1401.7" y="430.16" width="20.5" height="6.93" fill="#2b1959"/>
<rect x="1422.3" y="430.16" width="21.2" height="6.93" fill="#3c1f66"/>
<rect x="1443.4" y="430.16" width="43.8" height="6.93" fill="#6c2a78"/>
<rect x="1487.2" y="430.16" width="22.3" height="6.93" fill="#872a72"/>
<rect x="1509.5" y="430.16" width="22.4" height="6.93" fill="#6c2a78"/>
<rect x="1531.8" y="430.16" width="22.2" height="6.93" fill="#e88c30"/>
<rect x="1554.1" y="430.16" width="21.9" height="6.93" fill="#d0474d"/>
<rect x="1576.0" y="430.16" width="21.5" height="6.93" fill="#3c1f66"/>
<rect x="1597.5" y="430.16" width="20.9" height="6.93" fill="#0d0c15"/>
<rect x="1401.7" y="437.08" width="20.5" height="6.93" fill="#1b1142"/>
<rect x="1422.3" y="437.08" width="42.9" height="6.93" fill="#3c1f66"/>
<rect x="1465.1" y="437.08" width="22.1" height="6.93" fill="#d0474d"/>
<rect x="1487.2" y="437.08" width="44.6" height="6.93" fill="#872a72"/>
<rect x="1531.8" y="437.08" width="22.2" height="6.93" fill="#e8b838"/>
<rect x="1554.1" y="437.08" width="21.9" height="6.93" fill="#872a72"/>
<rect x="1576.0" y="437.08" width="21.5" height="6.93" fill="#3c1f66"/>
<rect x="1597.5" y="437.08" width="20.9" height="6.93" fill="#0d0c15"/>
<rect x="1401.7" y="444.01" width="20.5" height="6.93" fill="#1b1142"/>
<rect x="1422.3" y="444.01" width="21.2" height="6.93" fill="#3c1f66"/>
<rect x="1443.4" y="444.01" width="43.8" height="6.93" fill="#6c2a78"/>
<rect x="1487.2" y="444.01" width="22.3" height="6.93" fill="#e88c30"/>
<rect x="1509.5" y="444.01" width="22.4" height="6.93" fill="#6c2a78"/>
<rect x="1531.8" y="444.01" width="44.2" height="6.93" fill="#b13762"/>
<rect x="1576.0" y="444.01" width="21.5" height="6.93" fill="#522572"/>
<rect x="1597.5" y="444.01" width="20.9" height="6.93" fill="#0d0c15"/>
<rect x="1401.7" y="450.94" width="20.5" height="6.93" fill="#1b1142"/>
<rect x="1422.3" y="450.94" width="21.2" height="6.93" fill="#522572"/>
<rect x="1443.4" y="450.94" width="21.7" height="6.93" fill="#d0474d"/>
<rect x="1465.1" y="450.94" width="44.4" height="6.93" fill="#6c2a78"/>
<rect x="1509.5" y="450.94" width="22.4" height="6.93" fill="#872a72"/>
<rect x="1531.8" y="450.94" width="44.2" height="6.93" fill="#b13762"/>
<rect x="1576.0" y="450.94" width="21.5" height="6.93" fill="#872a72"/>
<rect x="1597.5" y="450.94" width="20.9" height="6.93" fill="#1b1142"/>
<rect x="1401.7" y="457.86" width="20.5" height="6.93" fill="#0d0c15"/>
<rect x="1422.3" y="457.86" width="21.2" height="6.93" fill="#3c1f66"/>
<rect x="1443.4" y="457.86" width="43.8" height="6.93" fill="#872a72"/>
<rect x="1487.2" y="457.86" width="88.8" height="6.93" fill="#b13762"/>
<rect x="1576.0" y="457.86" width="21.5" height="6.93" fill="#6c2a78"/>
<rect x="1597.5" y="457.86" width="20.9" height="6.93" fill="#2b1959"/>
<rect x="1422.3" y="464.79" width="21.2" height="6.93" fill="#3c1f66"/>
<rect x="1443.4" y="464.79" width="21.7" height="6.93" fill="#872a72"/>
<rect x="1465.1" y="464.79" width="22.1" height="6.93" fill="#b13762"/>
<rect x="1487.2" y="464.79" width="44.6" height="6.93" fill="#d0474d"/>
<rect x="1531.8" y="464.79" width="22.2" height="6.93" fill="#b13762"/>
<rect x="1554.1" y="464.79" width="21.9" height="6.93" fill="#872a72"/>
<rect x="1576.0" y="464.79" width="21.5" height="6.93" fill="#6c2a78"/>
<rect x="1597.5" y="464.79" width="20.9" height="6.93" fill="#2b1959"/>
<rect x="1422.3" y="471.71" width="21.2" height="6.93" fill="#3c1f66"/>
<rect x="1443.4" y="471.71" width="21.7" height="6.93" fill="#6c2a78"/>
<rect x="1465.1" y="471.71" width="44.4" height="6.93" fill="#872a72"/>
<rect x="1509.5" y="471.71" width="22.4" height="6.93" fill="#6c2a78"/>
<rect x="1531.8" y="471.71" width="22.2" height="6.93" fill="#872a72"/>
<rect x="1554.1" y="471.71" width="43.4" height="6.93" fill="#b13762"/>
<rect x="1597.5" y="471.71" width="20.9" height="6.93" fill="#6c2a78"/>
<rect x="1618.4" y="471.71" width="20.2" height="6.93" fill="#0d0c15"/>
<rect x="1422.3" y="478.64" width="21.2" height="6.93" fill="#1b1142"/>
<rect x="1443.4" y="478.64" width="21.7" height="6.93" fill="#872a72"/>
<rect x="1465.1" y="478.64" width="22.1" height="6.93" fill="#6c2a78"/>
<rect x="1487.2" y="478.64" width="22.3" height="6.93" fill="#b13762"/>
<rect x="1509.5" y="478.64" width="22.4" height="6.93" fill="#6c2a78"/>
<rect x="1531.8" y="478.64" width="22.2" height="6.93" fill="#b13762"/>
<rect x="1554.1" y="478.64" width="21.9" height="6.93" fill="#872a72"/>
<rect x="1576.0" y="478.64" width="21.5" height="6.93" fill="#b13762"/>
<rect x="1597.5" y="478.64" width="20.9" height="6.93" fill="#6c2a78"/>
<rect x="1618.4" y="478.64" width="20.2" height="6.93" fill="#1b1142"/>
<rect x="1422.3" y="485.56" width="21.2" height="6.93" fill="#2b1959"/>
<rect x="1443.4" y="485.56" width="21.7" height="6.93" fill="#522572"/>
<rect x="1465.1" y="485.56" width="66.7" height="6.93" fill="#872a72"/>
<rect x="1531.8" y="485.56" width="22.2" height="6.93" fill="#6c2a78"/>
<rect x="1554.1" y="485.56" width="21.9" height="6.93" fill="#e46333"/>
<rect x="1576.0" y="485.56" width="21.5" height="6.93" fill="#872a72"/>
<rect x="1597.5" y="485.56" width="20.9" height="6.93" fill="#522572"/>
<rect x="1618.4" y="485.56" width="20.2" height="6.93" fill="#1b1142"/>
<rect x="1422.3" y="492.49" width="21.2" height="6.93" fill="#1b1142"/>
<rect x="1443.4" y="492.49" width="21.7" height="6.93" fill="#522572"/>
<rect x="1465.1" y="492.49" width="22.1" height="6.93" fill="#b13762"/>
<rect x="1487.2" y="492.49" width="22.3" height="6.93" fill="#872a72"/>
<rect x="1509.5" y="492.49" width="22.4" height="6.93" fill="#522572"/>
<rect x="1531.8" y="492.49" width="22.2" height="6.93" fill="#872a72"/>
<rect x="1554.1" y="492.49" width="21.9" height="6.93" fill="#b13762"/>
<rect x="1576.0" y="492.49" width="21.5" height="6.93" fill="#e46333"/>
<rect x="1597.5" y="492.49" width="20.9" height="6.93" fill="#522572"/>
<rect x="1618.4" y="492.49" width="20.2" height="6.93" fill="#3c1f66"/>
<rect x="1638.6" y="492.49" width="19.4" height="6.93" fill="#0d0c15"/>
<rect x="1422.3" y="499.42" width="21.2" height="6.93" fill="#0d0c15"/>
<rect x="1443.4" y="499.42" width="21.7" height="6.93" fill="#522572"/>
<rect x="1465.1" y="499.42" width="44.4" height="6.93" fill="#6c2a78"/>
<rect x="1509.5" y="499.42" width="22.4" height="6.93" fill="#522572"/>
<rect x="1531.8" y="499.42" width="22.2" height="6.93" fill="#e46333"/>
<rect x="1554.1" y="499.42" width="21.9" height="6.93" fill="#b13762"/>
<rect x="1576.0" y="499.42" width="21.5" height="6.93" fill="#872a72"/>
<rect x="1597.5" y="499.42" width="20.9" height="6.93" fill="#6c2a78"/>
<rect x="1618.4" y="499.42" width="20.2" height="6.93" fill="#522572"/>
<rect x="1638.6" y="499.42" width="19.4" height="6.93" fill="#0d0c15"/>
<rect x="1422.3" y="506.34" width="21.2" height="6.93" fill="#1b1142"/>
<rect x="1443.4" y="506.34" width="21.7" height="6.93" fill="#522572"/>
<rect x="1465.1" y="506.34" width="22.1" height="6.93" fill="#6c2a78"/>
<rect x="1487.2" y="506.34" width="22.3" height="6.93" fill="#522572"/>
<rect x="1509.5" y="506.34" width="22.4" height="6.93" fill="#6c2a78"/>
<rect x="1531.8" y="506.34" width="22.2" height="6.93" fill="#872a72"/>
<rect x="1554.1" y="506.34" width="21.9" height="6.93" fill="#d0474d"/>
<rect x="1576.0" y="506.34" width="21.5" height="6.93" fill="#872a72"/>
<rect x="1597.5" y="506.34" width="20.9" height="6.93" fill="#6c2a78"/>
<rect x="1618.4" y="506.34" width="20.2" height="6.93" fill="#522572"/>
<rect x="1638.6" y="506.34" width="19.4" height="6.93" fill="#0d0c15"/>
<rect x="1422.3" y="513.27" width="21.2" height="6.93" fill="#1b1142"/>
<rect x="1443.4" y="513.27" width="21.7" height="6.93" fill="#3c1f66"/>
<rect x="1465.1" y="513.27" width="22.1" height="6.93" fill="#6c2a78"/>
<rect x="1487.2" y="513.27" width="22.3" height="6.93" fill="#b13762"/>
<rect x="1509.5" y="513.27" width="22.4" height="6.93" fill="#6c2a78"/>
<rect x="1531.8" y="513.27" width="22.2" height="6.93" fill="#872a72"/>
<rect x="1554.1" y="513.27" width="64.3" height="6.93" fill="#6c2a78"/>
<rect x="1618.4" y="513.27" width="20.2" height="6.93" fill="#522572"/>
<rect x="1638.6" y="513.27" width="19.4" height="6.93" fill="#2b1959"/>
<rect x="1422.3" y="520.19" width="21.2" height="6.93" fill="#1b1142"/>
<rect x="1443.4" y="520.19" width="21.7" height="6.93" fill="#2b1959"/>
<rect x="1465.1" y="520.19" width="66.7" height="6.93" fill="#6c2a78"/>
<rect x="1531.8" y="520.19" width="22.2" height="6.93" fill="#d0474d"/>
<rect x="1554.1" y="520.19" width="21.9" height="6.93" fill="#b13762"/>
<rect x="1576.0" y="520.19" width="21.5" height="6.93" fill="#872a72"/>
<rect x="1597.5" y="520.19" width="20.9" height="6.93" fill="#522572"/>
<rect x="1618.4" y="520.19" width="20.2" height="6.93" fill="#3c1f66"/>
<rect x="1638.6" y="520.19" width="19.4" height="6.93" fill="#522572"/>
<rect x="1422.3" y="527.12" width="21.2" height="6.93" fill="#0d0c15"/>
<rect x="1443.4" y="527.12" width="43.8" height="6.93" fill="#3c1f66"/>
<rect x="1487.2" y="527.12" width="22.3" height="6.93" fill="#e8b838"/>
<rect x="1509.5" y="527.12" width="22.4" height="6.93" fill="#6c2a78"/>
<rect x="1531.8" y="527.12" width="22.2" height="6.93" fill="#d0474d"/>
<rect x="1554.1" y="527.12" width="43.4" height="6.93" fill="#6c2a78"/>
<rect x="1597.5" y="527.12" width="20.9" height="6.93" fill="#2b1959"/>
<rect x="1618.4" y="527.12" width="39.6" height="6.93" fill="#3c1f66"/>
<rect x="1658.0" y="527.12" width="18.6" height="6.93" fill="#0d0c15"/>
<rect x="1422.3" y="534.04" width="21.2" height="6.93" fill="#0d0c15"/>
<rect x="1443.4" y="534.04" width="21.7" height="6.93" fill="#872a72"/>
<rect x="1465.1" y="534.04" width="22.1" height="6.93" fill="#3c1f66"/>
<rect x="1487.2" y="534.04" width="22.3" height="6.93" fill="#522572"/>
<rect x="1509.5" y="534.04" width="22.4" height="6.93" fill="#b13762"/>
<rect x="1531.8" y="534.04" width="22.2" height="6.93" fill="#522572"/>
<rect x="1554.1" y="534.04" width="21.9" height="6.93" fill="#b13762"/>
<rect x="1576.0" y="534.04" width="42.4" height="6.93" fill="#6c2a78"/>
<rect x="1618.4" y="534.04" width="20.2" height="6.93" fill="#522572"/>
<rect x="1638.6" y="534.04" width="19.4" height="6.93" fill="#6c2a78"/>
<rect x="1658.0" y="534.04" width="18.6" height="6.93" fill="#0d0c15"/>
<rect x="1422.3" y="540.97" width="21.2" height="6.93" fill="#1b1142"/>
<rect x="1443.4" y="540.97" width="21.7" height="6.93" fill="#522572"/>
<rect x="1465.1" y="540.97" width="44.4" height="6.93" fill="#3c1f66"/>
<rect x="1509.5" y="540.97" width="22.4" height="6.93" fill="#b13762"/>
<rect x="1531.8" y="540.97" width="22.2" height="6.93" fill="#3c1f66"/>
<rect x="1554.1" y="540.97" width="21.9" height="6.93" fill="#522572"/>
<rect x="1576.0" y="540.97" width="21.5" height="6.93" fill="#872a72"/>
<rect x="1597.5" y="540.97" width="20.9" height="6.93" fill="#6c2a78"/>
<rect x="1618.4" y="540.97" width="20.2" height="6.93" fill="#872a72"/>
<rect x="1638.6" y="540.97" width="19.4" height="6.93" fill="#6c2a78"/>
<rect x="1658.0" y="540.97" width="18.6" height="6.93" fill="#3c1f66"/>
<rect x="1676.6" y="540.97" width="17.7" height="6.93" fill="#0d0c15"/>
<rect x="1422.3" y="547.90" width="21.2" height="6.93" fill="#1b1142"/>
<rect x="1443.4" y="547.90" width="21.7" height="6.93" fill="#2b1959"/>
<rect x="1465.1" y="547.90" width="44.4" height="6.93" fill="#3c1f66"/>
<rect x="1509.5" y="547.90" width="22.4" height="6.93" fill="#b13762"/>
<rect x="1531.8" y="547.90" width="22.2" height="6.93" fill="#6c2a78"/>
<rect x="1554.1" y="547.90" width="21.9" height="6.93" fill="#d0474d"/>
<rect x="1576.0" y="547.90" width="21.5" height="6.93" fill="#872a72"/>
<rect x="1597.5" y="547.90" width="41.1" height="6.93" fill="#3c1f66"/>
<rect x="1638.6" y="547.90" width="19.4" height="6.93" fill="#6c2a78"/>
<rect x="1658.0" y="547.90" width="18.6" height="6.93" fill="#522572"/>
<rect x="1676.6" y="547.90" width="17.7" height="6.93" fill="#0d0c15"/>
<rect x="1422.3" y="554.82" width="21.2" height="6.93" fill="#1b1142"/>
<rect x="1443.4" y="554.82" width="21.7" height="6.93" fill="#2b1959"/>
<rect x="1465.1" y="554.82" width="22.1" height="6.93" fill="#522572"/>
<rect x="1487.2" y="554.82" width="44.6" height="6.93" fill="#3c1f66"/>
<rect x="1531.8" y="554.82" width="22.2" height="6.93" fill="#d0474d"/>
<rect x="1554.1" y="554.82" width="21.9" height="6.93" fill="#b13762"/>
<rect x="1576.0" y="554.82" width="21.5" height="6.93" fill="#872a72"/>
<rect x="1597.5" y="554.82" width="41.1" height="6.93" fill="#3c1f66"/>
<rect x="1638.6" y="554.82" width="19.4" height="6.93" fill="#872a72"/>
<rect x="1658.0" y="554.82" width="18.6" height="6.93" fill="#3c1f66"/>
<rect x="1676.6" y="554.82" width="17.7" height="6.93" fill="#0d0c15"/>
<rect x="1422.3" y="561.75" width="21.2" height="6.93" fill="#0d0c15"/>
<rect x="1443.4" y="561.75" width="21.7" height="6.93" fill="#2b1959"/>
<rect x="1465.1" y="561.75" width="22.1" height="6.93" fill="#522572"/>
<rect x="1487.2" y="561.75" width="22.3" height="6.93" fill="#2b1959"/>
<rect x="1509.5" y="561.75" width="22.4" height="6.93" fill="#522572"/>
<rect x="1531.8" y="561.75" width="65.7" height="6.93" fill="#6c2a78"/>
<rect x="1597.5" y="561.75" width="20.9" height="6.93" fill="#b13762"/>
<rect x="1618.4" y="561.75" width="39.6" height="6.93" fill="#6c2a78"/>
<rect x="1658.0" y="561.75" width="18.6" height="6.93" fill="#872a72"/>
<rect x="1676.6" y="561.75" width="17.7" height="6.93" fill="#1b1142"/>
<rect x="1422.3" y="568.67" width="42.9" height="6.93" fill="#1b1142"/>
<rect x="1465.1" y="568.67" width="22.1" height="6.93" fill="#3c1f66"/>
<rect x="1487.2" y="568.67" width="22.3" height="6.93" fill="#1b1142"/>
<rect x="1509.5" y="568.67" width="22.4" height="6.93" fill="#872a72"/>
<rect x="1531.8" y="568.67" width="22.2" height="6.93" fill="#522572"/>
<rect x="1554.1" y="568.67" width="21.9" height="6.93" fill="#872a72"/>
<rect x="1576.0" y="568.67" width="21.5" height="6.93" fill="#522572"/>
<rect x="1597.5" y="568.67" width="20.9" height="6.93" fill="#b13762"/>
<rect x="1618.4" y="568.67" width="20.2" height="6.93" fill="#6c2a78"/>
<rect x="1638.6" y="568.67" width="19.4" height="6.93" fill="#3c1f66"/>
<rect x="1658.0" y="568.67" width="18.6" height="6.93" fill="#b13762"/>
<rect x="1676.6" y="568.67" width="17.7" height="6.93" fill="#2b1959"/>
<rect x="1422.3" y="575.60" width="21.2" height="6.93" fill="#0d0c15"/>
<rect x="1443.4" y="575.60" width="21.7" height="6.93" fill="#1b1142"/>
<rect x="1465.1" y="575.60" width="44.4" height="6.93" fill="#3c1f66"/>
<rect x="1509.5" y="575.60" width="22.4" height="6.93" fill="#b13762"/>
<rect x="1531.8" y="575.60" width="65.7" height="6.93" fill="#522572"/>
<rect x="1597.5" y="575.60" width="41.1" height="6.93" fill="#872a72"/>
<rect x="1638.6" y="575.60" width="19.4" height="6.93" fill="#3c1f66"/>
<rect x="1658.0" y="575.60" width="18.6" height="6.93" fill="#522572"/>
<rect x="1676.6" y="575.60" width="17.7" height="6.93" fill="#3c1f66"/>
<rect x="1422.3" y="582.52" width="21.2" height="6.93" fill="#0d0c15"/>
<rect x="1443.4" y="582.52" width="21.7" height="6.93" fill="#1b1142"/>
<rect x="1465.1" y="582.52" width="22.1" height="6.93" fill="#522572"/>
<rect x="1487.2" y="582.52" width="22.3" height="6.93" fill="#3c1f66"/>
<rect x="1509.5" y="582.52" width="22.4" height="6.93" fill="#1b1142"/>
<rect x="1531.8" y="582.52" width="22.2" height="6.93" fill="#522572"/>
<rect x="1554.1" y="582.52" width="21.9" height="6.93" fill="#b13762"/>
<rect x="1576.0" y="582.52" width="21.5" height="6.93" fill="#522572"/>
<rect x="1597.5" y="582.52" width="20.9" height="6.93" fill="#b13762"/>
<rect x="1618.4" y="582.52" width="20.2" height="6.93" fill="#6c2a78"/>
<rect x="1638.6" y="582.52" width="19.4" height="6.93" fill="#3c1f66"/>
<rect x="1658.0" y="582.52" width="18.6" height="6.93" fill="#6c2a78"/>
<rect x="1676.6" y="582.52" width="17.7" height="6.93" fill="#522572"/>
<rect x="1694.3" y="582.52" width="16.8" height="6.93" fill="#0d0c15"/>
<rect x="1422.3" y="589.45" width="21.2" height="6.93" fill="#0d0c15"/>
<rect x="1443.4" y="589.45" width="21.7" height="6.93" fill="#872a72"/>
<rect x="1465.1" y="589.45" width="22.1" height="6.93" fill="#b13762"/>
<rect x="1487.2" y="589.45" width="22.3" height="6.93" fill="#3c1f66"/>
<rect x="1509.5" y="589.45" width="22.4" height="6.93" fill="#1b1142"/>
<rect x="1531.8" y="589.45" width="22.2" height="6.93" fill="#522572"/>
<rect x="1554.1" y="589.45" width="43.4" height="6.93" fill="#872a72"/>
<rect x="1597.5" y="589.45" width="20.9" height="6.93" fill="#3c1f66"/>
<rect x="1618.4" y="589.45" width="20.2" height="6.93" fill="#522572"/>
<rect x="1638.6" y="589.45" width="19.4" height="6.93" fill="#3c1f66"/>
<rect x="1658.0" y="589.45" width="18.6" height="6.93" fill="#2b1959"/>
<rect x="1676.6" y="589.45" width="17.7" height="6.93" fill="#522572"/>
<rect x="1694.3" y="589.45" width="16.8" height="6.93" fill="#0d0c15"/>
<rect x="1422.3" y="596.38" width="21.2" height="6.93" fill="#0d0c15"/>
<rect x="1443.4" y="596.38" width="21.7" height="6.93" fill="#6c2a78"/>
<rect x="1465.1" y="596.38" width="22.1" height="6.93" fill="#522572"/>
<rect x="1487.2" y="596.38" width="22.3" height="6.93" fill="#2b1959"/>
<rect x="1509.5" y="596.38" width="22.4" height="6.93" fill="#522572"/>
<rect x="1531.8" y="596.38" width="22.2" height="6.93" fill="#3c1f66"/>
<rect x="1554.1" y="596.38" width="21.9" height="6.93" fill="#6c2a78"/>
<rect x="1576.0" y="596.38" width="21.5" height="6.93" fill="#e46333"/>
<rect x="1597.5" y="596.38" width="20.9" height="6.93" fill="#3c1f66"/>
<rect x="1618.4" y="596.38" width="20.2" height="6.93" fill="#522572"/>
<rect x="1638.6" y="596.38" width="38.0" height="6.93" fill="#3c1f66"/>
<rect x="1676.6" y="596.38" width="17.7" height="6.93" fill="#522572"/>
<rect x="1694.3" y="596.38" width="16.8" height="6.93" fill="#1b1142"/>
<rect x="1422.3" y="603.30" width="21.2" height="6.93" fill="#1b1142"/>
<rect x="1443.4" y="603.30" width="43.8" height="6.93" fill="#522572"/>
<rect x="1487.2" y="603.30" width="22.3" height="6.93" fill="#872a72"/>
<rect x="1509.5" y="603.30" width="22.4" height="6.93" fill="#2b1959"/>
<rect x="1531.8" y="603.30" width="22.2" height="6.93" fill="#3c1f66"/>
<rect x="1554.1" y="603.30" width="21.9" height="6.93" fill="#6c2a78"/>
<rect x="1576.0" y="603.30" width="21.5" height="6.93" fill="#872a72"/>
<rect x="1597.5" y="603.30" width="20.9" height="6.93" fill="#3c1f66"/>
<rect x="1618.4" y="603.30" width="39.6" height="6.93" fill="#522572"/>
<rect x="1658.0" y="603.30" width="18.6" height="6.93" fill="#3c1f66"/>
<rect x="1676.6" y="603.30" width="17.7" height="6.93" fill="#872a72"/>
<rect x="1694.3" y="603.30" width="16.8" height="6.93" fill="#2b1959"/>
<rect x="1422.3" y="610.23" width="21.2" height="6.93" fill="#1b1142"/>
<rect x="1443.4" y="610.23" width="88.4" height="6.93" fill="#522572"/>
<rect x="1531.8" y="610.23" width="22.2" height="6.93" fill="#2b1959"/>
<rect x="1554.1" y="610.23" width="21.9" height="6.93" fill="#522572"/>
<rect x="1576.0" y="610.23" width="21.5" height="6.93" fill="#b13762"/>
<rect x="1597.5" y="610.23" width="20.9" height="6.93" fill="#2b1959"/>
<rect x="1618.4" y="610.23" width="20.2" height="6.93" fill="#b13762"/>
<rect x="1638.6" y="610.23" width="19.4" height="6.93" fill="#522572"/>
<rect x="1658.0" y="610.23" width="18.6" height="6.93" fill="#2b1959"/>
<rect x="1676.6" y="610.23" width="17.7" height="6.93" fill="#6c2a78"/>
<rect x="1694.3" y="610.23" width="16.8" height="6.93" fill="#1b1142"/>
<rect x="1422.3" y="617.15" width="21.2" height="6.93" fill="#0d0c15"/>
<rect x="1443.4" y="617.15" width="21.7" height="6.93" fill="#2b1959"/>
<rect x="1465.1" y="617.15" width="44.4" height="6.93" fill="#522572"/>
<rect x="1509.5" y="617.15" width="22.4" height="6.93" fill="#3c1f66"/>
<rect x="1531.8" y="617.15" width="22.2" height="6.93" fill="#2b1959"/>
<rect x="1554.1" y="617.15" width="21.9" height="6.93" fill="#6c2a78"/>
<rect x="1576.0" y="617.15" width="21.5" height="6.93" fill="#872a72"/>
<rect x="1597.5" y="617.15" width="41.1" height="6.93" fill="#3c1f66"/>
<rect x="1638.6" y="617.15" width="38.0" height="6.93" fill="#872a72"/>
<rect x="1676.6" y="617.15" width="34.5" height="6.93" fill="#522572"/>
<rect x="1711.1" y="617.15" width="15.9" height="6.93" fill="#0d0c15"/>
<rect x="1422.3" y="624.08" width="21.2" height="6.93" fill="#0d0c15"/>
<rect x="1443.4" y="624.08" width="43.8" height="6.93" fill="#3c1f66"/>
<rect x="1487.2" y="624.08" width="22.3" height="6.93" fill="#872a72"/>
<rect x="1509.5" y="624.08" width="22.4" height="6.93" fill="#2b1959"/>
<rect x="1531.8" y="624.08" width="22.2" height="6.93" fill="#3c1f66"/>
<rect x="1554.1" y="624.08" width="21.9" height="6.93" fill="#872a72"/>
<rect x="1576.0" y="624.08" width="21.5" height="6.93" fill="#522572"/>
<rect x="1597.5" y="624.08" width="20.9" height="6.93" fill="#3c1f66"/>
<rect x="1618.4" y="624.08" width="20.2" height="6.93" fill="#1b1142"/>
<rect x="1638.6" y="624.08" width="38.0" height="6.93" fill="#6c2a78"/>
<rect x="1676.6" y="624.08" width="17.7" height="6.93" fill="#3c1f66"/>
<rect x="1694.3" y="624.08" width="16.8" height="6.93" fill="#6c2a78"/>
<rect x="1711.1" y="624.08" width="15.9" height="6.93" fill="#1b1142"/>
<rect x="1401.7" y="631.00" width="20.5" height="6.93" fill="#0d0c15"/>
<rect x="1422.3" y="631.00" width="21.2" height="6.93" fill="#1b1142"/>
<rect x="1443.4" y="631.00" width="21.7" height="6.93" fill="#3c1f66"/>
<rect x="1465.1" y="631.00" width="22.1" height="6.93" fill="#522572"/>
<rect x="1487.2" y="631.00" width="22.3" height="6.93" fill="#2b1959"/>
<rect x="1509.5" y="631.00" width="22.4" height="6.93" fill="#522572"/>
<rect x="1531.8" y="631.00" width="22.2" height="6.93" fill="#3c1f66"/>
<rect x="1554.1" y="631.00" width="43.4" height="6.93" fill="#6c2a78"/>
<rect x="1597.5" y="631.00" width="20.9" height="6.93" fill="#3c1f66"/>
<rect x="1618.4" y="631.00" width="20.2" height="6.93" fill="#2b1959"/>
<rect x="1638.6" y="631.00" width="19.4" height="6.93" fill="#3c1f66"/>
<rect x="1658.0" y="631.00" width="18.6" height="6.93" fill="#522572"/>
<rect x="1676.6" y="631.00" width="17.7" height="6.93" fill="#6c2a78"/>
<rect x="1694.3" y="631.00" width="16.8" height="6.93" fill="#872a72"/>
<rect x="1711.1" y="631.00" width="15.9" height="6.93" fill="#1b1142"/>
<rect x="1422.3" y="637.93" width="21.2" height="6.93" fill="#0d0c15"/>
<rect x="1443.4" y="637.93" width="21.7" height="6.93" fill="#3c1f66"/>
<rect x="1465.1" y="637.93" width="22.1" height="6.93" fill="#522572"/>
<rect x="1487.2" y="637.93" width="22.3" height="6.93" fill="#1b1142"/>
<rect x="1509.5" y="637.93" width="22.4" height="6.93" fill="#3c1f66"/>
<rect x="1531.8" y="637.93" width="22.2" height="6.93" fill="#1b1142"/>
<rect x="1554.1" y="637.93" width="21.9" height="6.93" fill="#522572"/>
<rect x="1576.0" y="637.93" width="21.5" height="6.93" fill="#872a72"/>
<rect x="1597.5" y="637.93" width="20.9" height="6.93" fill="#6c2a78"/>
<rect x="1618.4" y="637.93" width="20.2" height="6.93" fill="#1b1142"/>
<rect x="1638.6" y="637.93" width="19.4" height="6.93" fill="#522572"/>
<rect x="1658.0" y="637.93" width="18.6" height="6.93" fill="#6c2a78"/>
<rect x="1676.6" y="637.93" width="17.7" height="6.93" fill="#522572"/>
<rect x="1694.3" y="637.93" width="16.8" height="6.93" fill="#b13762"/>
<rect x="1711.1" y="637.93" width="15.9" height="6.93" fill="#1b1142"/>
<rect x="1422.3" y="644.86" width="21.2" height="6.93" fill="#1b1142"/>
<rect x="1443.4" y="644.86" width="43.8" height="6.93" fill="#2b1959"/>
<rect x="1487.2" y="644.86" width="22.3" height="6.93" fill="#3c1f66"/>
<rect x="1509.5" y="644.86" width="22.4" height="6.93" fill="#d0474d"/>
<rect x="1531.8" y="644.86" width="22.2" height="6.93" fill="#2b1959"/>
<rect x="1554.1" y="644.86" width="21.9" height="6.93" fill="#522572"/>
<rect x="1576.0" y="644.86" width="21.5" height="6.93" fill="#872a72"/>
<rect x="1597.5" y="644.86" width="79.1" height="6.93" fill="#3c1f66"/>
<rect x="1676.6" y="644.86" width="17.7" height="6.93" fill="#522572"/>
<rect x="1694.3" y="644.86" width="16.8" height="6.93" fill="#6c2a78"/>
<rect x="1711.1" y="644.86" width="15.9" height="6.93" fill="#2b1959"/>
<rect x="1422.3" y="651.78" width="21.2" height="6.93" fill="#1b1142"/>
<rect x="1443.4" y="651.78" width="43.8" height="6.93" fill="#6c2a78"/>
<rect x="1487.2" y="651.78" width="44.6" height="6.93" fill="#3c1f66"/>
<rect x="1531.8" y="651.78" width="22.2" height="6.93" fill="#872a72"/>
<rect x="1554.1" y="651.78" width="21.9" height="6.93" fill="#522572"/>
<rect x="1576.0" y="651.78" width="21.5" height="6.93" fill="#6c2a78"/>
<rect x="1597.5" y="651.78" width="20.9" height="6.93" fill="#2b1959"/>
<rect x="1618.4" y="651.78" width="39.6" height="6.93" fill="#1b1142"/>
<rect x="1658.0" y="651.78" width="18.6" height="6.93" fill="#522572"/>
<rect x="1676.6" y="651.78" width="50.4" height="6.93" fill="#3c1f66"/>
<rect x="1727.0" y="651.78" width="15.0" height="6.93" fill="#0d0c15"/>
<rect x="1422.3" y="658.71" width="21.2" height="6.93" fill="#3c1f66"/>
<rect x="1443.4" y="658.71" width="21.7" height="6.93" fill="#1b1142"/>
<rect x="1465.1" y="658.71" width="66.7" height="6.93" fill="#3c1f66"/>
<rect x="1531.8" y="658.71" width="22.2" height="6.93" fill="#872a72"/>
<rect x="1554.1" y="658.71" width="21.9" height="6.93" fill="#2b1959"/>
<rect x="1576.0" y="658.71" width="21.5" height="6.93" fill="#522572"/>
<rect x="1597.5" y="658.71" width="20.9" height="6.93" fill="#3c1f66"/>
<rect x="1618.4" y="658.71" width="20.2" height="6.93" fill="#1b1142"/>
<rect x="1638.6" y="658.71" width="19.4" height="6.93" fill="#2b1959"/>
<rect x="1658.0" y="658.71" width="18.6" height="6.93" fill="#522572"/>
<rect x="1676.6" y="658.71" width="17.7" height="6.93" fill="#6c2a78"/>
<rect x="1694.3" y="658.71" width="16.8" height="6.93" fill="#3c1f66"/>
<rect x="1711.1" y="658.71" width="15.9" height="6.93" fill="#b13762"/>
<rect x="1727.0" y="658.71" width="15.0" height="6.93" fill="#0d0c15"/>
<rect x="1422.3" y="665.63" width="21.2" height="6.93" fill="#0d0c15"/>
<rect x="1443.4" y="665.63" width="21.7" height="6.93" fill="#3c1f66"/>
<rect x="1465.1" y="665.63" width="22.1" height="6.93" fill="#2b1959"/>
<rect x="1487.2" y="665.63" width="22.3" height="6.93" fill="#6c2a78"/>
<rect x="1509.5" y="665.63" width="22.4" height="6.93" fill="#3c1f66"/>
<rect x="1531.8" y="665.63" width="22.2" height="6.93" fill="#d0474d"/>
<rect x="1554.1" y="665.63" width="21.9" height="6.93" fill="#3c1f66"/>
<rect x="1576.0" y="665.63" width="21.5" height="6.93" fill="#2b1959"/>
<rect x="1597.5" y="665.63" width="20.9" height="6.93" fill="#3c1f66"/>
<rect x="1618.4" y="665.63" width="20.2" height="6.93" fill="#0d0c15"/>
<rect x="1638.6" y="665.63" width="19.4" height="6.93" fill="#1b1142"/>
<rect x="1658.0" y="665.63" width="18.6" height="6.93" fill="#3c1f66"/>
<rect x="1676.6" y="665.63" width="17.7" height="6.93" fill="#2b1959"/>
<rect x="1694.3" y="665.63" width="16.8" height="6.93" fill="#522572"/>
<rect x="1711.1" y="665.63" width="15.9" height="6.93" fill="#b13762"/>
<rect x="1727.0" y="665.63" width="15.0" height="6.93" fill="#1b1142"/>
<rect x="1422.3" y="672.56" width="42.9" height="6.93" fill="#1b1142"/>
<rect x="1465.1" y="672.56" width="22.1" height="6.93" fill="#522572"/>
<rect x="1487.2" y="672.56" width="22.3" height="6.93" fill="#3c1f66"/>
<rect x="1509.5" y="672.56" width="22.4" height="6.93" fill="#2b1959"/>
<rect x="1531.8" y="672.56" width="44.2" height="6.93" fill="#3c1f66"/>
<rect x="1576.0" y="672.56" width="21.5" height="6.93" fill="#6c2a78"/>
<rect x="1597.5" y="672.56" width="41.1" height="6.93" fill="#2b1959"/>
<rect x="1638.6" y="672.56" width="38.0" height="6.93" fill="#1b1142"/>
<rect x="1676.6" y="672.56" width="17.7" height="6.93" fill="#2b1959"/>
<rect x="1694.3" y="672.56" width="16.8" height="6.93" fill="#b13762"/>
<rect x="1711.1" y="672.56" width="15.9" height="6.93" fill="#d0474d"/>
<rect x="1727.0" y="672.56" width="15.0" height="6.93" fill="#522572"/>
<rect x="1422.3" y="679.49" width="21.2" height="6.93" fill="#1b1142"/>
<rect x="1443.4" y="679.49" width="21.7" height="6.93" fill="#3c1f66"/>
<rect x="1465.1" y="679.49" width="22.1" height="6.93" fill="#1b1142"/>
<rect x="1487.2" y="679.49" width="22.3" height="6.93" fill="#522572"/>
<rect x="1509.5" y="679.49" width="22.4" height="6.93" fill="#1b1142"/>
<rect x="1531.8" y="679.49" width="22.2" height="6.93" fill="#b13762"/>
<rect x="1554.1" y="679.49" width="43.4" height="6.93" fill="#522572"/>
<rect x="1597.5" y="679.49" width="20.9" height="6.93" fill="#2b1959"/>
<rect x="1618.4" y="679.49" width="39.6" height="6.93" fill="#0d0c15"/>
<rect x="1658.0" y="679.49" width="36.3" height="6.93" fill="#2b1959"/>
<rect x="1694.3" y="679.49" width="16.8" height="6.93" fill="#3c1f66"/>
<rect x="1711.1" y="679.49" width="30.9" height="6.93" fill="#872a72"/>
<rect x="1742.0" y="679.49" width="14.1" height="6.93" fill="#0d0c15"/>
<rect x="1422.3" y="686.41" width="21.2" height="6.93" fill="#1b1142"/>
<rect x="1443.4" y="686.41" width="43.8" height="6.93" fill="#3c1f66"/>
<rect x="1487.2" y="686.41" width="22.3" height="6.93" fill="#2b1959"/>
<rect x="1509.5" y="686.41" width="44.6" height="6.93" fill="#6c2a78"/>
<rect x="1554.1" y="686.41" width="21.9" height="6.93" fill="#522572"/>
<rect x="1576.0" y="686.41" width="42.4" height="6.93" fill="#2b1959"/>
<rect x="1618.4" y="686.41" width="58.2" height="6.93" fill="#1b1142"/>
<rect x="1676.6" y="686.41" width="17.7" height="6.93" fill="#2b1959"/>
<rect x="1694.3" y="686.41" width="16.8" height="6.93" fill="#3c1f66"/>
<rect x="1711.1" y="686.41" width="30.9" height="6.93" fill="#b13762"/>
<rect x="1742.0" y="686.41" width="14.1" height="6.93" fill="#0d0c15"/>
<rect x="1422.3" y="693.34" width="21.2" height="6.93" fill="#1b1142"/>
<rect x="1443.4" y="693.34" width="43.8" height="6.93" fill="#3c1f66"/>
<rect x="1487.2" y="693.34" width="22.3" height="6.93" fill="#522572"/>
<rect x="1509.5" y="693.34" width="22.4" height="6.93" fill="#3c1f66"/>
<rect x="1531.8" y="693.34" width="22.2" height="6.93" fill="#2b1959"/>
<rect x="1554.1" y="693.34" width="21.9" height="6.93" fill="#522572"/>
<rect x="1576.0" y="693.34" width="21.5" height="6.93" fill="#3c1f66"/>
<rect x="1597.5" y="693.34" width="41.1" height="6.93" fill="#1b1142"/>
<rect x="1638.6" y="693.34" width="19.4" height="6.93" fill="#3c1f66"/>
<rect x="1658.0" y="693.34" width="36.3" height="6.93" fill="#1b1142"/>
<rect x="1694.3" y="693.34" width="16.8" height="6.93" fill="#6c2a78"/>
<rect x="1711.1" y="693.34" width="15.9" height="6.93" fill="#b13762"/>
<rect x="1727.0" y="693.34" width="15.0" height="6.93" fill="#d0474d"/>
<rect x="1742.0" y="693.34" width="14.1" height="6.93" fill="#0d0c15"/>
<rect x="1422.3" y="700.26" width="21.2" height="6.93" fill="#1b1142"/>
<rect x="1443.4" y="700.26" width="21.7" height="6.93" fill="#3c1f66"/>
<rect x="1465.1" y="700.26" width="44.4" height="6.93" fill="#2b1959"/>
<rect x="1509.5" y="700.26" width="22.4" height="6.93" fill="#1b1142"/>
<rect x="1531.8" y="700.26" width="22.2" height="6.93" fill="#522572"/>
<rect x="1554.1" y="700.26" width="21.9" height="6.93" fill="#1b1142"/>
<rect x="1576.0" y="700.26" width="21.5" height="6.93" fill="#3c1f66"/>
<rect x="1597.5" y="700.26" width="20.9" height="6.93" fill="#0d0c15"/>
<rect x="1618.4" y="700.26" width="20.2" height="6.93" fill="#2b1959"/>
<rect x="1638.6" y="700.26" width="19.4" height="6.93" fill="#3c1f66"/>
<rect x="1658.0" y="700.26" width="53.1" height="6.93" fill="#522572"/>
<rect x="1711.1" y="700.26" width="15.9" height="6.93" fill="#6c2a78"/>
<rect x="1727.0" y="700.26" width="15.0" height="6.93" fill="#e46333"/>
<rect x="1742.0" y="700.26" width="14.1" height="6.93" fill="#1b1142"/>
<rect x="1422.3" y="707.19" width="21.2" height="6.93" fill="#0d0c15"/>
<rect x="1443.4" y="707.19" width="21.7" height="6.93" fill="#3c1f66"/>
<rect x="1465.1" y="707.19" width="89.0" height="6.93" fill="#1b1142"/>
<rect x="1554.1" y="707.19" width="43.4" height="6.93" fill="#3c1f66"/>
<rect x="1597.5" y="707.19" width="20.9" height="6.93" fill="#0d0c15"/>
<rect x="1618.4" y="707.19" width="20.2" height="6.93" fill="#1b1142"/>
<rect x="1638.6" y="707.19" width="19.4" height="6.93" fill="#3c1f66"/>
<rect x="1658.0" y="707.19" width="53.1" height="6.93" fill="#522572"/>
<rect x="1711.1" y="707.19" width="15.9" height="6.93" fill="#872a72"/>
<rect x="1727.0" y="707.19" width="15.0" height="6.93" fill="#e46333"/>
<rect x="1742.0" y="707.19" width="14.1" height="6.93" fill="#3c1f66"/>
<rect x="1422.3" y="714.11" width="21.2" height="6.93" fill="#0d0c15"/>
<rect x="1443.4" y="714.11" width="21.7" height="6.93" fill="#522572"/>
<rect x="1465.1" y="714.11" width="22.1" height="6.93" fill="#3c1f66"/>
<rect x="1487.2" y="714.11" width="22.3" height="6.93" fill="#2b1959"/>
<rect x="1509.5" y="714.11" width="22.4" height="6.93" fill="#1b1142"/>
<rect x="1531.8" y="714.11" width="22.2" height="6.93" fill="#3c1f66"/>
<rect x="1554.1" y="714.11" width="43.4" height="6.93" fill="#2b1959"/>
<rect x="1597.5" y="714.11" width="41.1" height="6.93" fill="#0d0c15"/>
<rect x="1638.6" y="714.11" width="19.4" height="6.93" fill="#2b1959"/>
<rect x="1658.0" y="714.11" width="18.6" height="6.93" fill="#522572"/>
<rect x="1676.6" y="714.11" width="34.5" height="6.93" fill="#3c1f66"/>
<rect x="1711.1" y="714.11" width="30.9" height="6.93" fill="#b13762"/>
<rect x="1742.0" y="714.11" width="14.1" height="6.93" fill="#522572"/>
<rect x="1422.3" y="721.04" width="42.9" height="6.93" fill="#1b1142"/>
<rect x="1465.1" y="721.04" width="44.4" height="6.93" fill="#2b1959"/>
<rect x="1509.5" y="721.04" width="22.4" height="6.93" fill="#1b1142"/>
<rect x="1531.8" y="721.04" width="22.2" height="6.93" fill="#2b1959"/>
<rect x="1554.1" y="721.04" width="21.9" height="6.93" fill="#522572"/>
<rect x="1576.0" y="721.04" width="21.5" height="6.93" fill="#3c1f66"/>
<rect x="1597.5" y="721.04" width="20.9" height="6.93" fill="#1b1142"/>
<rect x="1618.4" y="721.04" width="20.2" height="6.93" fill="#0d0c15"/>
<rect x="1638.6" y="721.04" width="19.4" height="6.93" fill="#3c1f66"/>
<rect x="1658.0" y="721.04" width="18.6" height="6.93" fill="#1b1142"/>
<rect x="1676.6" y="721.04" width="17.7" height="6.93" fill="#6c2a78"/>
<rect x="1694.3" y="721.04" width="16.8" height="6.93" fill="#3c1f66"/>
<rect x="1711.1" y="721.04" width="15.9" height="6.93" fill="#872a72"/>
<rect x="1727.0" y="721.04" width="15.0" height="6.93" fill="#b13762"/>
<rect x="1742.0" y="721.04" width="14.1" height="6.93" fill="#6c2a78"/>
<rect x="1422.3" y="727.97" width="42.9" height="6.93" fill="#1b1142"/>
<rect x="1465.1" y="727.97" width="44.4" height="6.93" fill="#2b1959"/>
<rect x="1509.5" y="727.97" width="22.4" height="6.93" fill="#1b1142"/>
<rect x="1531.8" y="727.97" width="65.7" height="6.93" fill="#3c1f66"/>
<rect x="1597.5" y="727.97" width="41.1" height="6.93" fill="#0d0c15"/>
<rect x="1638.6" y="727.97" width="55.7" height="6.93" fill="#522572"/>
<rect x="1694.3" y="727.97" width="16.8" height="6.93" fill="#3c1f66"/>
<rect x="1711.1" y="727.97" width="45.0" height="6.93" fill="#872a72"/>
<rect x="1756.2" y="727.97" width="13.3" height="6.93" fill="#0d0c15"/>
<rect x="1422.3" y="734.89" width="21.2" height="6.93" fill="#0d0c15"/>
<rect x="1443.4" y="734.89" width="43.8" height="6.93" fill="#1b1142"/>
<rect x="1487.2" y="734.89" width="22.3" height="6.93" fill="#6c2a78"/>
<rect x="1509.5" y="734.89" width="22.4" height="6.93" fill="#2b1959"/>
<rect x="1531.8" y="734.89" width="22.2" height="6.93" fill="#872a72"/>
<rect x="1554.1" y="734.89" width="21.9" height="6.93" fill="#3c1f66"/>
<rect x="1576.0" y="734.89" width="21.5" height="6.93" fill="#1b1142"/>
<rect x="1597.5" y="734.89" width="20.9" height="6.93" fill="#0d0c15"/>
<rect x="1638.6" y="734.89" width="19.4" height="6.93" fill="#1b1142"/>
<rect x="1658.0" y="734.89" width="18.6" height="6.93" fill="#522572"/>
<rect x="1676.6" y="734.89" width="34.5" height="6.93" fill="#3c1f66"/>
<rect x="1711.1" y="734.89" width="15.9" height="6.93" fill="#522572"/>
<rect x="1727.0" y="734.89" width="15.0" height="6.93" fill="#6c2a78"/>
<rect x="1742.0" y="734.89" width="14.1" height="6.93" fill="#b13762"/>
<rect x="1756.2" y="734.89" width="13.3" height="6.93" fill="#1b1142"/>
<rect x="1422.3" y="741.82" width="21.2" height="6.93" fill="#0d0c15"/>
<rect x="1443.4" y="741.82" width="43.8" height="6.93" fill="#2b1959"/>
<rect x="1487.2" y="741.82" width="22.3" height="6.93" fill="#1b1142"/>
<rect x="1509.5" y="741.82" width="22.4" height="6.93" fill="#3c1f66"/>
<rect x="1531.8" y="741.82" width="22.2" height="6.93" fill="#2b1959"/>
<rect x="1554.1" y="741.82" width="21.9" height="6.93" fill="#3c1f66"/>
<rect x="1576.0" y="741.82" width="21.5" height="6.93" fill="#2b1959"/>
<rect x="1597.5" y="741.82" width="20.9" height="6.93" fill="#0d0c15"/>
<rect x="1638.6" y="741.82" width="19.4" height="6.93" fill="#1b1142"/>
<rect x="1658.0" y="741.82" width="69.0" height="6.93" fill="#522572"/>
<rect x="1727.0" y="741.82" width="15.0" height="6.93" fill="#872a72"/>
<rect x="1742.0" y="741.82" width="14.1" height="6.93" fill="#d0474d"/>
<rect x="1756.2" y="741.82" width="13.3" height="6.93" fill="#2b1959"/>
<rect x="1422.3" y="748.74" width="21.2" height="6.93" fill="#1b1142"/>
<rect x="1443.4" y="748.74" width="88.4" height="6.93" fill="#3c1f66"/>
<rect x="1531.8" y="748.74" width="44.2" height="6.93" fill="#522572"/>
<rect x="1576.0" y="748.74" width="21.5" height="6.93" fill="#3c1f66"/>
<rect x="1597.5" y="748.74" width="20.9" height="6.93" fill="#2b1959"/>
<rect x="1638.6" y="748.74" width="19.4" height="6.93" fill="#0d0c15"/>
<rect x="1658.0" y="748.74" width="18.6" height="6.93" fill="#2b1959"/>
<rect x="1676.6" y="748.74" width="17.7" height="6.93" fill="#3c1f66"/>
<rect x="1694.3" y="748.74" width="16.8" height="6.93" fill="#522572"/>
<rect x="1711.1" y="748.74" width="30.9" height="6.93" fill="#3c1f66"/>
<rect x="1742.0" y="748.74" width="14.1" height="6.93" fill="#6c2a78"/>
<rect x="1756.2" y="748.74" width="13.3" height="6.93" fill="#522572"/>
<rect x="1422.3" y="755.67" width="21.2" height="6.93" fill="#1b1142"/>
<rect x="1443.4" y="755.67" width="21.7" height="6.93" fill="#2b1959"/>
<rect x="1465.1" y="755.67" width="22.1" height="6.93" fill="#3c1f66"/>
<rect x="1487.2" y="755.67" width="44.6" height="6.93" fill="#2b1959"/>
<rect x="1531.8" y="755.67" width="44.2" height="6.93" fill="#3c1f66"/>
<rect x="1576.0" y="755.67" width="21.5" height="6.93" fill="#d0474d"/>
<rect x="1597.5" y="755.67" width="20.9" height="6.93" fill="#2b1959"/>
<rect x="1638.6" y="755.67" width="19.4" height="6.93" fill="#0d0c15"/>
<rect x="1658.0" y="755.67" width="18.6" height="6.93" fill="#1b1142"/>
<rect x="1676.6" y="755.67" width="34.5" height="6.93" fill="#522572"/>
<rect x="1711.1" y="755.67" width="15.9" height="6.93" fill="#3c1f66"/>
<rect x="1727.0" y="755.67" width="42.4" height="6.93" fill="#522572"/>
<rect x="1422.3" y="762.59" width="21.2" height="6.93" fill="#1b1142"/>
<rect x="1443.4" y="762.59" width="21.7" height="6.93" fill="#2b1959"/>
<rect x="1465.1" y="762.59" width="22.1" height="6.93" fill="#872a72"/>
<rect x="1487.2" y="762.59" width="44.6" height="6.93" fill="#2b1959"/>
<rect x="1531.8" y="762.59" width="22.2" height="6.93" fill="#3c1f66"/>
<rect x="1554.1" y="762.59" width="21.9" height="6.93" fill="#2b1959"/>
<rect x="1576.0" y="762.59" width="42.4" height="6.93" fill="#3c1f66"/>
<rect x="1658.0" y="762.59" width="18.6" height="6.93" fill="#1b1142"/>
<rect x="1676.6" y="762.59" width="17.7" height="6.93" fill="#3c1f66"/>
<rect x="1694.3" y="762.59" width="16.8" height="6.93" fill="#872a72"/>
<rect x="1711.1" y="762.59" width="15.9" height="6.93" fill="#3c1f66"/>
<rect x="1727.0" y="762.59" width="15.0" height="6.93" fill="#522572"/>
<rect x="1742.0" y="762.59" width="14.1" height="6.93" fill="#872a72"/>
<rect x="1756.2" y="762.59" width="13.3" height="6.93" fill="#6c2a78"/>
<rect x="1422.3" y="769.52" width="21.2" height="6.93" fill="#1b1142"/>
<rect x="1443.4" y="769.52" width="21.7" height="6.93" fill="#2b1959"/>
<rect x="1465.1" y="769.52" width="22.1" height="6.93" fill="#b13762"/>
<rect x="1487.2" y="769.52" width="22.3" height="6.93" fill="#2b1959"/>
<rect x="1509.5" y="769.52" width="22.4" height="6.93" fill="#872a72"/>
<rect x="1531.8" y="769.52" width="22.2" height="6.93" fill="#2b1959"/>
<rect x="1554.1" y="769.52" width="43.4" height="6.93" fill="#b13762"/>
<rect x="1597.5" y="769.52" width="20.9" height="6.93" fill="#3c1f66"/>
<rect x="1658.0" y="769.52" width="36.3" height="6.93" fill="#1b1142"/>
<rect x="1694.3" y="769.52" width="16.8" height="6.93" fill="#3c1f66"/>
<rect x="1711.1" y="769.52" width="30.9" height="6.93" fill="#1b1142"/>
<rect x="1742.0" y="769.52" width="14.1" height="6.93" fill="#2b1959"/>
<rect x="1756.2" y="769.52" width="13.3" height="6.93" fill="#522572"/>
<rect x="1769.5" y="769.52" width="12.5" height="6.93" fill="#0d0c15"/>
<rect x="1401.7" y="776.45" width="20.5" height="6.93" fill="#0d0c15"/>
<rect x="1422.3" y="776.45" width="21.2" height="6.93" fill="#1b1142"/>
<rect x="1443.4" y="776.45" width="21.7" height="6.93" fill="#3c1f66"/>
<rect x="1465.1" y="776.45" width="22.1" height="6.93" fill="#b13762"/>
<rect x="1487.2" y="776.45" width="22.3" height="6.93" fill="#3c1f66"/>
<rect x="1509.5" y="776.45" width="22.4" height="6.93" fill="#522572"/>
<rect x="1531.8" y="776.45" width="22.2" height="6.93" fill="#872a72"/>
<rect x="1554.1" y="776.45" width="43.4" height="6.93" fill="#6c2a78"/>
<rect x="1597.5" y="776.45" width="20.9" height="6.93" fill="#3c1f66"/>
<rect x="1658.0" y="776.45" width="18.6" height="6.93" fill="#0d0c15"/>
<rect x="1676.6" y="776.45" width="34.5" height="6.93" fill="#1b1142"/>
<rect x="1711.1" y="776.45" width="15.9" height="6.93" fill="#3c1f66"/>
<rect x="1727.0" y="776.45" width="15.0" height="6.93" fill="#1b1142"/>
<rect x="1742.0" y="776.45" width="27.4" height="6.93" fill="#2b1959"/>
<rect x="1422.3" y="783.37" width="21.2" height="6.93" fill="#2b1959"/>
<rect x="1443.4" y="783.37" width="21.7" height="6.93" fill="#b13762"/>
<rect x="1465.1" y="783.37" width="44.4" height="6.93" fill="#6c2a78"/>
<rect x="1509.5" y="783.37" width="22.4" height="6.93" fill="#2b1959"/>
<rect x="1531.8" y="783.37" width="22.2" height="6.93" fill="#b13762"/>
<rect x="1554.1" y="783.37" width="21.9" height="6.93" fill="#3c1f66"/>
<rect x="1576.0" y="783.37" width="21.5" height="6.93" fill="#b13762"/>
<rect x="1597.5" y="783.37" width="20.9" height="6.93" fill="#1b1142"/>
<rect x="1658.0" y="783.37" width="36.3" height="6.93" fill="#0d0c15"/>
<rect x="1694.3" y="783.37" width="16.8" height="6.93" fill="#2b1959"/>
<rect x="1711.1" y="783.37" width="30.9" height="6.93" fill="#1b1142"/>
<rect x="1742.0" y="783.37" width="14.1" height="6.93" fill="#0d0c15"/>
<rect x="1756.2" y="783.37" width="13.3" height="6.93" fill="#522572"/>
<rect x="1422.3" y="790.30" width="21.2" height="6.93" fill="#1b1142"/>
<rect x="1443.4" y="790.30" width="21.7" height="6.93" fill="#b13762"/>
<rect x="1465.1" y="790.30" width="44.4" height="6.93" fill="#6c2a78"/>
<rect x="1509.5" y="790.30" width="22.4" height="6.93" fill="#d0474d"/>
<rect x="1531.8" y="790.30" width="44.2" height="6.93" fill="#6c2a78"/>
<rect x="1576.0" y="790.30" width="21.5" height="6.93" fill="#3c1f66"/>
<rect x="1597.5" y="790.30" width="20.9" height="6.93" fill="#2b1959"/>
<rect x="1676.6" y="790.30" width="17.7" height="6.93" fill="#2b1959"/>
<rect x="1694.3" y="790.30" width="32.7" height="6.93" fill="#1b1142"/>
<rect x="1727.0" y="790.30" width="15.0" height="6.93" fill="#0d0c15"/>
<rect x="1742.0" y="790.30" width="27.4" height="6.93" fill="#1b1142"/>
<rect x="1422.3" y="797.22" width="21.2" height="6.93" fill="#1b1142"/>
<rect x="1443.4" y="797.22" width="21.7" height="6.93" fill="#6c2a78"/>
<rect x="1465.1" y="797.22" width="22.1" height="6.93" fill="#e46333"/>
<rect x="1487.2" y="797.22" width="22.3" height="6.93" fill="#6c2a78"/>
<rect x="1509.5" y="797.22" width="22.4" height="6.93" fill="#872a72"/>
<rect x="1531.8" y="797.22" width="22.2" height="6.93" fill="#6c2a78"/>
<rect x="1554.1" y="797.22" width="21.9" height="6.93" fill="#872a72"/>
<rect x="1576.0" y="797.22" width="21.5" height="6.93" fill="#522572"/>
<rect x="1597.5" y="797.22" width="20.9" height="6.93" fill="#1b1142"/>
<rect x="1618.4" y="797.22" width="20.2" height="6.93" fill="#0d0c15"/>
<rect x="1676.6" y="797.22" width="17.7" height="6.93" fill="#0d0c15"/>
<rect x="1694.3" y="797.22" width="16.8" height="6.93" fill="#1b1142"/>
<rect x="1711.1" y="797.22" width="15.9" height="6.93" fill="#2b1959"/>
<rect x="1727.0" y="797.22" width="42.4" height="6.93" fill="#0d0c15"/>
<rect x="1422.3" y="804.15" width="21.2" height="6.93" fill="#3c1f66"/>
<rect x="1443.4" y="804.15" width="21.7" height="6.93" fill="#6c2a78"/>
<rect x="1465.1" y="804.15" width="22.1" height="6.93" fill="#b13762"/>
<rect x="1487.2" y="804.15" width="44.6" height="6.93" fill="#3c1f66"/>
<rect x="1531.8" y="804.15" width="22.2" height="6.93" fill="#6c2a78"/>
<rect x="1554.1" y="804.15" width="21.9" height="6.93" fill="#e46333"/>
<rect x="1576.0" y="804.15" width="21.5" height="6.93" fill="#872a72"/>
<rect x="1597.5" y="804.15" width="20.9" height="6.93" fill="#3c1f66"/>
<rect x="1618.4" y="804.15" width="20.2" height="6.93" fill="#0d0c15"/>
<rect x="1694.3" y="804.15" width="16.8" height="6.93" fill="#0d0c15"/>
<rect x="1711.1" y="804.15" width="30.9" height="6.93" fill="#1b1142"/>
<rect x="1742.0" y="804.15" width="27.4" height="6.93" fill="#0d0c15"/>
<rect x="1422.3" y="811.07" width="21.2" height="6.93" fill="#1b1142"/>
<rect x="1443.4" y="811.07" width="21.7" height="6.93" fill="#6c2a78"/>
<rect x="1465.1" y="811.07" width="22.1" height="6.93" fill="#d0474d"/>
<rect x="1487.2" y="811.07" width="22.3" height="6.93" fill="#b13762"/>
<rect x="1509.5" y="811.07" width="22.4" height="6.93" fill="#522572"/>
<rect x="1531.8" y="811.07" width="44.2" height="6.93" fill="#6c2a78"/>
<rect x="1576.0" y="811.07" width="21.5" height="6.93" fill="#b13762"/>
<rect x="1597.5" y="811.07" width="20.9" height="6.93" fill="#3c1f66"/>
<rect x="1676.6" y="811.07" width="34.5" height="6.93" fill="#0d0c15"/>
<rect x="1711.1" y="811.07" width="15.9" height="6.93" fill="#1b1142"/>
<rect x="1727.0" y="811.07" width="29.1" height="6.93" fill="#0d0c15"/>
<rect x="1756.2" y="811.07" width="13.3" height="6.93" fill="#1b1142"/>
</g>
<line x1="1516" y1="818" x2="1516" y2="118.5" stroke="#fff" stroke-width="1.9" stroke-dasharray="6.1 3.4"/>
<line x1="1235" y1="468.25" x2="1797.5" y2="468.25" stroke="#fff" stroke-width="1.9" stroke-dasharray="6.1 3.4"/>
<rect x="1235" y="118.5" width="562.5" height="699.5" fill="none" stroke="#000" stroke-width="1.2"/>
<g stroke="#000" stroke-width="1.25">
<path d="M1230.4 122H1235M1230.4 208.6H1235M1230.4 295.1H1235M1230.4 381.7H1235M1230.4 468.25H1235M1230.4 554.8H1235M1230.4 641.4H1235M1230.4 727.9H1235M1230.4 814.5H1235"/>
<path d="M1266.2 818V822M1391.1 818V822M1516 818V822M1640.9 818V822M1765.8 818V822"/>
<path d="M1867.5 817.5H1872M1867.5 697.6H1872M1867.5 577.5H1872M1867.5 457.4H1872M1867.5 337.4H1872M1867.5 217.3H1872"/>
</g>
<g class="dv" font-size="27.7" fill="#000" text-anchor="end">
<text class="dv" x="1226.2" y="132.5">100</text>
<text class="dv" x="1226.2" y="219.1">75</text>
<text class="dv" x="1226.2" y="305.6">50</text>
<text class="dv" x="1226.2" y="392.2">25</text>
<text class="dv" x="1226.2" y="478.8">0</text>
<text class="dv" x="1226.2" y="565.3">−25</text>
<text class="dv" x="1226.2" y="651.9">−50</text>
<text class="dv" x="1226.2" y="738.4">−75</text>
<text class="dv" x="1226.2" y="825.0">−100</text>
</g>
<g class="dv" font-size="27.7" fill="#000" text-anchor="middle">
<text class="dv" x="1266.2" y="848">−40</text>
<text class="dv" x="1391.1" y="848">−20</text>
<text class="dv" x="1516" y="848">0</text>
<text class="dv" x="1640.9" y="848">20</text>
<text class="dv" x="1765.8" y="848">40</text>
</g>
<defs><linearGradient id="cbg" x1="0" y1="1" x2="0" y2="0"><stop offset="0.0000" stop-color="#040405"/><stop offset="0.0515" stop-color="#0e0d16"/><stop offset="0.1030" stop-color="#180f3a"/><stop offset="0.1374" stop-color="#20134e"/><stop offset="0.1717" stop-color="#2e1a5c"/><stop offset="0.2576" stop-color="#4c2470"/><stop offset="0.3434" stop-color="#6c2a78"/><stop offset="0.4293" stop-color="#8e2a70"/><stop offset="0.5151" stop-color="#c43e5a"/><stop offset="0.6010" stop-color="#dc503e"/><stop offset="0.6868" stop-color="#e86c2e"/><stop offset="0.7727" stop-color="#e89030"/><stop offset="0.8585" stop-color="#e8b838"/><stop offset="0.9272" stop-color="#e6e054"/><stop offset="1.0000" stop-color="#eaf696"/></linearGradient></defs><rect x="1832" y="118.5" width="35.5" height="699.5" fill="url(#cbg)" stroke="#111" stroke-width="1.2"/>
<g class="dv" font-size="27.7" fill="#000">
<text class="dv" x="1876.3" y="828.4">0.00</text>
<text class="dv" x="1876.3" y="708.5">0.05</text>
<text class="dv" x="1876.3" y="588.4">0.10</text>
<text class="dv" x="1876.3" y="468.3">0.15</text>
<text class="dv" x="1876.3" y="348.3">0.20</text>
<text class="dv" x="1876.3" y="228.2">0.25</text>
</g>
<text transform="translate(1145.30 672.60) rotate(-90)" font-size="41" fill="#000" textLength="464.91" lengthAdjust="spacingAndGlyphs">Applied SLM Grating Order</text>
<text transform="translate(1984.80 691.54) rotate(-90)" font-size="41" fill="#000" textLength="420.66" lengthAdjust="spacingAndGlyphs">Directivity D = f(θ)/∑f(θ)</text>
</g>

<!-- text_h.svg -->
<g id="text-h">
<text x="7.81" y="34.80" font-size="40" fill="#111" textLength="31.77" lengthAdjust="spacingAndGlyphs">a)</text>
<text x="374.93" y="25.20" font-size="29.3" fill="#111" textLength="254.92" lengthAdjust="spacingAndGlyphs">Reconfigurable III-V</text>
<text x="425.28" y="62.60" font-size="29.3" fill="#111" textLength="162.93" lengthAdjust="spacingAndGlyphs">Metasurface</text>
<text x="104.02" y="224.00" font-size="30" fill="#111" textLength="162.03" lengthAdjust="spacingAndGlyphs">Spatial Light</text>
<text x="119.53" y="262.60" font-size="30" fill="#111" textLength="138.16" lengthAdjust="spacingAndGlyphs">Modulator</text>
<text x="341.82" y="314.30" font-size="40.6" fill="#111" textLength="282.36" lengthAdjust="spacingAndGlyphs">Ultrafast Optical</text>
<text x="378.59" y="365.00" font-size="40.6" fill="#111" textLength="218.66" lengthAdjust="spacingAndGlyphs">Experiments</text>
<text x="746.40" y="235.10" font-size="29.3" fill="#111" textLength="171.25" lengthAdjust="spacingAndGlyphs">PL Directivity</text>
<text x="718.63" y="246.90" font-size="25.5" fill="#111" textLength="23.74" lengthAdjust="spacingAndGlyphs">0°</text>
<text x="617.81" y="267.40" font-size="25.5" fill="#111" textLength="36.37" lengthAdjust="spacingAndGlyphs">-30</text>
<text x="793.77" y="267.40" font-size="25.5" fill="#111" textLength="55.06" lengthAdjust="spacingAndGlyphs">+30°</text>
<text x="661.12" y="526.90" font-size="40.6" fill="#000" textLength="159.13" lengthAdjust="spacingAndGlyphs">Equation</text>
<text x="678.36" y="577.80" font-size="40.6" fill="#000" textLength="132.63" lengthAdjust="spacingAndGlyphs">Learner</text>
<text x="170.06" y="599.60" font-size="40.6" fill="#000" textLength="192.76" lengthAdjust="spacingAndGlyphs">Generative</text>
<text x="170.62" y="650.90" font-size="40.6" fill="#000" textLength="201.84" lengthAdjust="spacingAndGlyphs">Exploration</text>
<text x="406.54" y="824.20" font-size="34.2" fill="#7b3f9e" textLength="187.61" lengthAdjust="spacingAndGlyphs">Latent Space</text>
<text x="434.82" y="865.60" font-size="34.2" fill="#7b3f9e" textLength="139.35" lengthAdjust="spacingAndGlyphs">Sampling</text>
<text x="734.12" y="824.20" font-size="34.2" fill="#1f6b30" textLength="211.08" lengthAdjust="spacingAndGlyphs">Pruning Based</text>
<text x="784.20" y="866.20" font-size="34.2" fill="#1f6b30" textLength="119.06" lengthAdjust="spacingAndGlyphs">Training</text>
<text x="975.82" y="43.90" font-size="40" fill="#000" textLength="34.32" lengthAdjust="spacingAndGlyphs">b)</text>
<text x="1261.03" y="35.00" font-size="38.8" fill="#000" textLength="540.54" lengthAdjust="spacingAndGlyphs">Far-Field Directivity of Emission</text>
<text x="1233.75" y="85.20" font-size="38.8" fill="#000" textLength="596.62" lengthAdjust="spacingAndGlyphs">from semiconducting metasurface</text>
<text x="1357.13" y="884.50" font-size="39.5" fill="#000" textLength="310.93" lengthAdjust="spacingAndGlyphs">Emission Angle (°)</text>
<text x="415.00" y="557.00" font-size="23.5" fill="#fff" textLength="159.05" lengthAdjust="spacingAndGlyphs">Active Learning</text>
<text x="406.08" y="585.50" font-size="23.5" fill="#fff" textLength="174.60" lengthAdjust="spacingAndGlyphs">Gaussian Process</text>
<text x="26.49" y="545.00" font-size="23" fill="#fff" textLength="87.66" lengthAdjust="spacingAndGlyphs">Decoder</text>
<text x="29.52" y="622.50" font-size="23" fill="#fff" textLength="83.90" lengthAdjust="spacingAndGlyphs">Encoder</text>
<text x="94.50" y="585.50" font-size="22.5" fill="#7e3f9f" textLength="38.51" lengthAdjust="spacingAndGlyphs">VAE</text>
<text x="731.20" y="156.60" font-size="18.3" fill="#fff" textLength="58.84" lengthAdjust="spacingAndGlyphs">500nm</text>
</g>

</svg>
</body></html>
